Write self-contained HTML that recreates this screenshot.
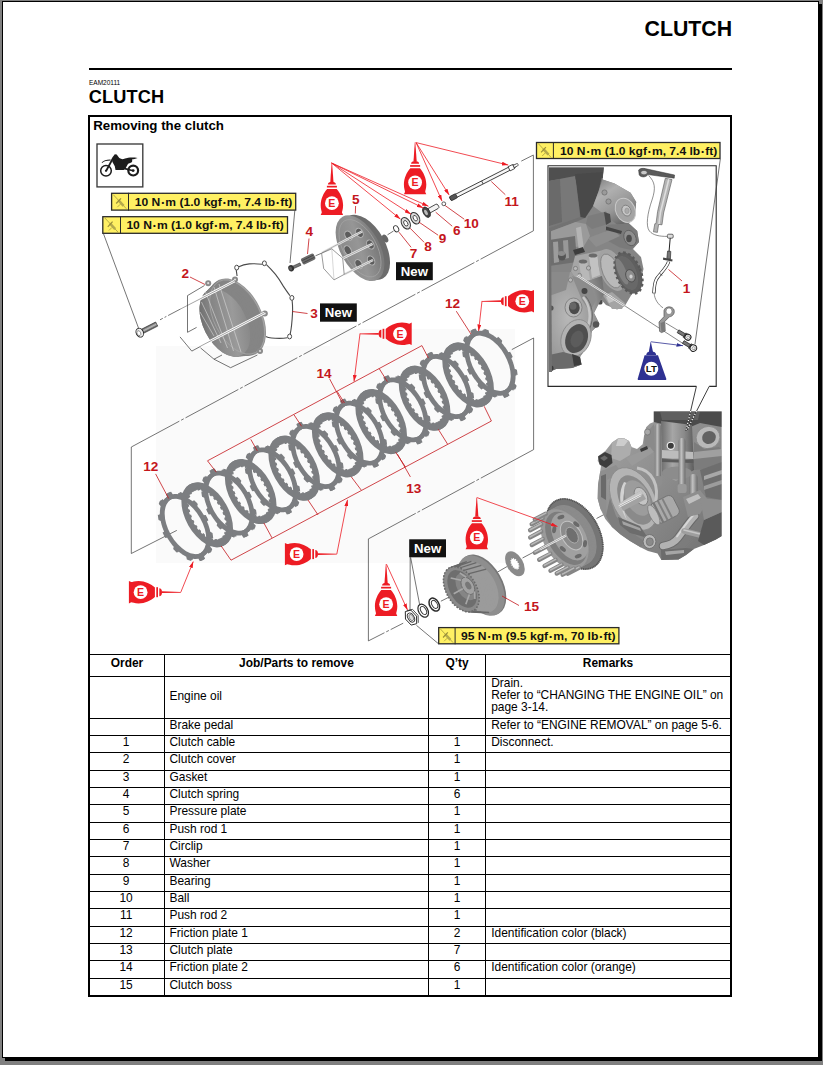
<!DOCTYPE html><html><head><meta charset="utf-8"><title>CLUTCH</title><style>
html,body{margin:0;padding:0}
body{background:#808080;width:823px;height:1065px;position:relative;overflow:hidden;font-family:"Liberation Sans",Arial,Helvetica,sans-serif;color:#000}
.a{position:absolute}
#shadow{left:5px;top:4px;width:817px;height:1057px;background:#000}
#sheet{left:2px;top:1px;width:815px;height:1055px;border:1px solid #000;background:#fff}
.hl{position:absolute;background:#000;height:1px;left:90px;width:640px}
.vl{position:absolute;background:#000;width:1px;top:654px;height:341px}
.t{position:absolute;font-size:11.95px;line-height:12px;white-space:nowrap}
.b{font-weight:bold}
.c{text-align:center}
</style></head><body>
<div id="shadow" class="a"></div><div id="sheet" class="a"></div>
<div class="a b" style="left:644.6px;top:17.2px;font-size:21.3px;line-height:24px;white-space:nowrap">CLUTCH</div>
<div class="a" style="left:89px;top:68px;width:643px;height:2px;background:#000"></div>
<div class="a" style="left:89px;top:78.9px;font-size:6.5px;line-height:8px">EAM20111</div>
<div class="a b" style="left:88.7px;top:86.5px;font-size:18.2px;letter-spacing:0.15px;line-height:21px">CLUTCH</div>
<div class="a" style="left:88px;top:115px;width:640px;height:878px;border:2px solid #000"></div>
<div class="a b" style="left:93.2px;top:117.6px;font-size:13.3px;line-height:15px">Removing the clutch</div>
<svg class="a" style="left:0;top:0" width="823" height="1065" viewBox="0 0 823 1065" font-family="Liberation Sans, Arial, Helvetica, sans-serif">
<defs>
<marker id="ar" viewBox="0 0 10 6" refX="10" refY="3" markerWidth="6.5" markerHeight="3.9" markerUnits="userSpaceOnUse" orient="auto"><path d="M0,0 L10,3 L0,6 Z" fill="#ed1c24"/></marker>
<marker id="ab" viewBox="0 0 10 6" refX="10" refY="3" markerWidth="6.5" markerHeight="3.9" markerUnits="userSpaceOnUse" orient="auto"><path d="M0,0 L10,3 L0,6 Z" fill="#2e3192"/></marker>
<g id="can"><path d="M-0.3,-40.2 L0.2,-40.2 L1.6,-21.2 L-1.6,-21.2 Z"/><path d="M-4,-18.7 C-4,-20.3 -2.4,-21.4 0,-21.4 C2.4,-21.4 4,-20.3 4,-18.7 Z"/><rect x="-5" y="-17.4" width="10" height="1.7"/><path d="M-4.8,-14.3 L4.8,-14.3 C8.2,-10.5 11.2,-4.5 11.2,2 C11.2,6 10.1,8.2 10.1,9.4 L11.2,11.7 L-11.2,11.7 L-10.1,9.4 C-10.1,8.2 -11.2,6 -11.2,2 C-11.2,-4.5 -8.2,-10.5 -4.8,-14.3 Z"/></g>
<g id="canh"><path d="M-40.2,-0.3 L-21.2,-0.9 L-21.2,0.9 L-40.2,0.5 Z"/><g transform="rotate(-90)"><path d="M-4,-18.7 C-4,-20.3 -2.4,-21.4 0,-21.4 C2.4,-21.4 4,-20.3 4,-18.7 Z"/><rect x="-5" y="-17.4" width="10" height="1.7"/><path d="M-4.8,-14.3 L4.8,-14.3 C8.2,-10.5 11.2,-4.5 11.2,2 C11.2,6 10.1,8.2 10.1,9.4 L11.2,11.7 L-11.2,11.7 L-10.1,9.4 C-10.1,8.2 -11.2,6 -11.2,2 C-11.2,-4.5 -8.2,-10.5 -4.8,-14.3 Z"/></g></g>
<path id="rf" d="M37.8,0.0 L37.8,0.7 L37.8,1.3 L37.7,2.0 L37.7,2.6 L37.7,3.3 L37.6,4.0 L37.5,4.6 L37.4,5.3 L37.3,5.9 L34.3,6.0 L34.2,6.6 L34.0,7.2 L33.9,7.8 L33.8,8.4 L33.6,9.0 L33.5,9.6 L33.3,10.2 L33.1,10.8 L32.9,11.3 L32.7,11.9 L32.5,12.5 L32.3,13.0 L32.0,13.6 L31.8,14.2 L31.5,14.7 L31.3,15.3 L31.0,15.8 L30.7,16.3 L30.4,16.9 L32.7,18.9 L32.4,19.5 L32.1,20.0 L31.7,20.6 L31.3,21.1 L31.0,21.7 L30.6,22.2 L30.2,22.7 L29.8,23.3 L29.4,23.8 L26.7,22.4 L26.3,22.8 L25.9,23.3 L25.5,23.7 L25.0,24.2 L24.6,24.6 L24.2,25.0 L23.7,25.5 L23.3,25.9 L22.8,26.3 L22.4,26.7 L21.9,27.0 L21.4,27.4 L20.9,27.8 L20.5,28.2 L20.0,28.5 L19.5,28.9 L19.0,29.2 L18.4,29.5 L17.9,29.8 L18.9,32.7 L18.3,33.1 L17.7,33.4 L17.2,33.7 L16.6,34.0 L16.0,34.3 L15.4,34.5 L14.8,34.8 L14.2,35.0 L13.5,35.3 L11.9,32.7 L11.3,32.9 L10.8,33.1 L10.2,33.3 L9.6,33.5 L9.0,33.6 L8.4,33.8 L7.8,33.9 L7.2,34.0 L6.6,34.2 L6.0,34.3 L5.4,34.4 L4.8,34.5 L4.2,34.5 L3.6,34.6 L3.0,34.7 L2.4,34.7 L1.8,34.8 L1.2,34.8 L0.6,34.8 L0.0,37.8 L-0.7,37.8 L-1.3,37.8 L-2.0,37.7 L-2.6,37.7 L-3.3,37.7 L-4.0,37.6 L-4.6,37.5 L-5.3,37.4 L-5.9,37.3 L-6.0,34.3 L-6.6,34.2 L-7.2,34.0 L-7.8,33.9 L-8.4,33.8 L-9.0,33.6 L-9.6,33.5 L-10.2,33.3 L-10.8,33.1 L-11.3,32.9 L-11.9,32.7 L-12.5,32.5 L-13.0,32.3 L-13.6,32.0 L-14.2,31.8 L-14.7,31.5 L-15.3,31.3 L-15.8,31.0 L-16.3,30.7 L-16.9,30.4 L-18.9,32.7 L-19.5,32.4 L-20.0,32.1 L-20.6,31.7 L-21.1,31.3 L-21.7,31.0 L-22.2,30.6 L-22.7,30.2 L-23.3,29.8 L-23.8,29.4 L-22.4,26.7 L-22.8,26.3 L-23.3,25.9 L-23.7,25.5 L-24.2,25.0 L-24.6,24.6 L-25.0,24.2 L-25.5,23.7 L-25.9,23.3 L-26.3,22.8 L-26.7,22.4 L-27.0,21.9 L-27.4,21.4 L-27.8,20.9 L-28.2,20.5 L-28.5,20.0 L-28.9,19.5 L-29.2,19.0 L-29.5,18.4 L-29.8,17.9 L-32.7,18.9 L-33.1,18.3 L-33.4,17.7 L-33.7,17.2 L-34.0,16.6 L-34.3,16.0 L-34.5,15.4 L-34.8,14.8 L-35.0,14.2 L-35.3,13.5 L-32.7,11.9 L-32.9,11.3 L-33.1,10.8 L-33.3,10.2 L-33.5,9.6 L-33.6,9.0 L-33.8,8.4 L-33.9,7.8 L-34.0,7.2 L-34.2,6.6 L-34.3,6.0 L-34.4,5.4 L-34.5,4.8 L-34.5,4.2 L-34.6,3.6 L-34.7,3.0 L-34.7,2.4 L-34.8,1.8 L-34.8,1.2 L-34.8,0.6 L-37.8,0.0 L-37.8,-0.7 L-37.8,-1.3 L-37.7,-2.0 L-37.7,-2.6 L-37.7,-3.3 L-37.6,-4.0 L-37.5,-4.6 L-37.4,-5.3 L-37.3,-5.9 L-34.3,-6.0 L-34.2,-6.6 L-34.0,-7.2 L-33.9,-7.8 L-33.8,-8.4 L-33.6,-9.0 L-33.5,-9.6 L-33.3,-10.2 L-33.1,-10.8 L-32.9,-11.3 L-32.7,-11.9 L-32.5,-12.5 L-32.3,-13.0 L-32.0,-13.6 L-31.8,-14.2 L-31.5,-14.7 L-31.3,-15.3 L-31.0,-15.8 L-30.7,-16.3 L-30.4,-16.9 L-32.7,-18.9 L-32.4,-19.5 L-32.1,-20.0 L-31.7,-20.6 L-31.3,-21.1 L-31.0,-21.7 L-30.6,-22.2 L-30.2,-22.7 L-29.8,-23.3 L-29.4,-23.8 L-26.7,-22.4 L-26.3,-22.8 L-25.9,-23.3 L-25.5,-23.7 L-25.0,-24.2 L-24.6,-24.6 L-24.2,-25.0 L-23.7,-25.5 L-23.3,-25.9 L-22.8,-26.3 L-22.4,-26.7 L-21.9,-27.0 L-21.4,-27.4 L-20.9,-27.8 L-20.5,-28.2 L-20.0,-28.5 L-19.5,-28.9 L-19.0,-29.2 L-18.4,-29.5 L-17.9,-29.8 L-18.9,-32.7 L-18.3,-33.1 L-17.7,-33.4 L-17.2,-33.7 L-16.6,-34.0 L-16.0,-34.3 L-15.4,-34.5 L-14.8,-34.8 L-14.2,-35.0 L-13.5,-35.3 L-11.9,-32.7 L-11.3,-32.9 L-10.8,-33.1 L-10.2,-33.3 L-9.6,-33.5 L-9.0,-33.6 L-8.4,-33.8 L-7.8,-33.9 L-7.2,-34.0 L-6.6,-34.2 L-6.0,-34.3 L-5.4,-34.4 L-4.8,-34.5 L-4.2,-34.5 L-3.6,-34.6 L-3.0,-34.7 L-2.4,-34.7 L-1.8,-34.8 L-1.2,-34.8 L-0.6,-34.8 L-0.0,-37.8 L0.7,-37.8 L1.3,-37.8 L2.0,-37.7 L2.6,-37.7 L3.3,-37.7 L4.0,-37.6 L4.6,-37.5 L5.3,-37.4 L5.9,-37.3 L6.0,-34.3 L6.6,-34.2 L7.2,-34.0 L7.8,-33.9 L8.4,-33.8 L9.0,-33.6 L9.6,-33.5 L10.2,-33.3 L10.8,-33.1 L11.3,-32.9 L11.9,-32.7 L12.5,-32.5 L13.0,-32.3 L13.6,-32.0 L14.2,-31.8 L14.7,-31.5 L15.3,-31.3 L15.8,-31.0 L16.3,-30.7 L16.9,-30.4 L18.9,-32.7 L19.5,-32.4 L20.0,-32.1 L20.6,-31.7 L21.1,-31.3 L21.7,-31.0 L22.2,-30.6 L22.7,-30.2 L23.3,-29.8 L23.8,-29.4 L22.4,-26.7 L22.8,-26.3 L23.3,-25.9 L23.7,-25.5 L24.2,-25.0 L24.6,-24.6 L25.0,-24.2 L25.5,-23.7 L25.9,-23.3 L26.3,-22.8 L26.7,-22.4 L27.0,-21.9 L27.4,-21.4 L27.8,-20.9 L28.2,-20.5 L28.5,-20.0 L28.9,-19.5 L29.2,-19.0 L29.5,-18.4 L29.8,-17.9 L32.7,-18.9 L33.1,-18.3 L33.4,-17.7 L33.7,-17.2 L34.0,-16.6 L34.3,-16.0 L34.5,-15.4 L34.8,-14.8 L35.0,-14.2 L35.3,-13.5 L32.7,-11.9 L32.9,-11.3 L33.1,-10.8 L33.3,-10.2 L33.5,-9.6 L33.6,-9.0 L33.8,-8.4 L33.9,-7.8 L34.0,-7.2 L34.2,-6.6 L34.3,-6.0 L34.4,-5.4 L34.5,-4.8 L34.5,-4.2 L34.6,-3.6 L34.7,-3.0 L34.7,-2.4 L34.8,-1.8 L34.8,-1.2 L34.8,-0.6 Z M30.8,0 A30.8,30.8 0 1,0 -30.8,0 A30.8,30.8 0 1,0 30.8,0 Z" fill-rule="evenodd"/>
<path id="rc" d="M35.0,0 A35.0,35.0 0 1,0 -35.0,0 A35.0,35.0 0 1,0 35.0,0 Z M27.0,0.0 L27.0,0.5 L27.0,0.9 L27.0,1.4 L26.9,1.9 L26.9,2.4 L28.8,3.0 L28.8,3.5 L28.7,4.0 L28.6,4.5 L28.6,5.0 L28.5,5.5 L26.4,5.6 L26.3,6.1 L26.2,6.5 L26.1,7.0 L26.0,7.4 L25.8,7.9 L27.6,9.0 L27.4,9.4 L27.3,9.9 L27.1,10.4 L26.9,10.9 L26.7,11.3 L24.7,11.0 L24.5,11.4 L24.3,11.8 L24.1,12.3 L23.8,12.7 L23.6,13.1 L25.1,14.5 L24.9,14.9 L24.6,15.4 L24.3,15.8 L24.0,16.2 L23.8,16.6 L21.8,15.9 L21.6,16.2 L21.3,16.6 L21.0,17.0 L20.7,17.4 L20.4,17.7 L21.6,19.4 L21.2,19.8 L20.9,20.1 L20.5,20.5 L20.1,20.9 L19.8,21.2 L18.1,20.1 L17.7,20.4 L17.4,20.7 L17.0,21.0 L16.6,21.3 L16.2,21.6 L17.0,23.5 L16.6,23.8 L16.2,24.0 L15.8,24.3 L15.4,24.6 L14.9,24.9 L13.5,23.4 L13.1,23.6 L12.7,23.8 L12.3,24.1 L11.8,24.3 L11.4,24.5 L11.8,26.5 L11.3,26.7 L10.9,26.9 L10.4,27.1 L9.9,27.3 L9.4,27.4 L8.3,25.7 L7.9,25.8 L7.4,26.0 L7.0,26.1 L6.5,26.2 L6.1,26.3 L6.0,28.4 L5.5,28.5 L5.0,28.6 L4.5,28.6 L4.0,28.7 L3.5,28.8 L2.8,26.9 L2.4,26.9 L1.9,26.9 L1.4,27.0 L0.9,27.0 L0.5,27.0 L0.0,29.0 L-0.5,29.0 L-1.0,29.0 L-1.5,29.0 L-2.0,28.9 L-2.5,28.9 L-2.8,26.9 L-3.3,26.8 L-3.8,26.7 L-4.2,26.7 L-4.7,26.6 L-5.2,26.5 L-6.0,28.4 L-6.5,28.3 L-7.0,28.1 L-7.5,28.0 L-8.0,27.9 L-8.5,27.7 L-8.3,25.7 L-8.8,25.5 L-9.2,25.4 L-9.7,25.2 L-10.1,25.0 L-10.5,24.9 L-11.8,26.5 L-12.3,26.3 L-12.7,26.1 L-13.2,25.8 L-13.6,25.6 L-14.1,25.4 L-13.5,23.4 L-13.9,23.1 L-14.3,22.9 L-14.7,22.6 L-15.1,22.4 L-15.5,22.1 L-17.0,23.5 L-17.5,23.2 L-17.9,22.9 L-18.3,22.5 L-18.6,22.2 L-19.0,21.9 L-18.1,20.1 L-18.4,19.7 L-18.8,19.4 L-19.1,19.1 L-19.4,18.8 L-19.7,18.4 L-21.6,19.4 L-21.9,19.0 L-22.2,18.6 L-22.5,18.3 L-22.9,17.9 L-23.2,17.5 L-21.8,15.9 L-22.1,15.5 L-22.4,15.1 L-22.6,14.7 L-22.9,14.3 L-23.1,13.9 L-25.1,14.5 L-25.4,14.1 L-25.6,13.6 L-25.8,13.2 L-26.1,12.7 L-26.3,12.3 L-24.7,11.0 L-24.9,10.5 L-25.0,10.1 L-25.2,9.7 L-25.4,9.2 L-25.5,8.8 L-27.6,9.0 L-27.7,8.5 L-27.9,8.0 L-28.0,7.5 L-28.1,7.0 L-28.3,6.5 L-26.4,5.6 L-26.5,5.2 L-26.6,4.7 L-26.7,4.2 L-26.7,3.8 L-26.8,3.3 L-28.8,3.0 L-28.9,2.5 L-28.9,2.0 L-29.0,1.5 L-29.0,1.0 L-29.0,0.5 L-27.0,0.0 L-27.0,-0.5 L-27.0,-0.9 L-27.0,-1.4 L-26.9,-1.9 L-26.9,-2.4 L-28.8,-3.0 L-28.8,-3.5 L-28.7,-4.0 L-28.6,-4.5 L-28.6,-5.0 L-28.5,-5.5 L-26.4,-5.6 L-26.3,-6.1 L-26.2,-6.5 L-26.1,-7.0 L-26.0,-7.4 L-25.8,-7.9 L-27.6,-9.0 L-27.4,-9.4 L-27.3,-9.9 L-27.1,-10.4 L-26.9,-10.9 L-26.7,-11.3 L-24.7,-11.0 L-24.5,-11.4 L-24.3,-11.8 L-24.1,-12.3 L-23.8,-12.7 L-23.6,-13.1 L-25.1,-14.5 L-24.9,-14.9 L-24.6,-15.4 L-24.3,-15.8 L-24.0,-16.2 L-23.8,-16.6 L-21.8,-15.9 L-21.6,-16.2 L-21.3,-16.6 L-21.0,-17.0 L-20.7,-17.4 L-20.4,-17.7 L-21.6,-19.4 L-21.2,-19.8 L-20.9,-20.1 L-20.5,-20.5 L-20.1,-20.9 L-19.8,-21.2 L-18.1,-20.1 L-17.7,-20.4 L-17.4,-20.7 L-17.0,-21.0 L-16.6,-21.3 L-16.2,-21.6 L-17.0,-23.5 L-16.6,-23.8 L-16.2,-24.0 L-15.8,-24.3 L-15.4,-24.6 L-14.9,-24.9 L-13.5,-23.4 L-13.1,-23.6 L-12.7,-23.8 L-12.3,-24.1 L-11.8,-24.3 L-11.4,-24.5 L-11.8,-26.5 L-11.3,-26.7 L-10.9,-26.9 L-10.4,-27.1 L-9.9,-27.3 L-9.4,-27.4 L-8.3,-25.7 L-7.9,-25.8 L-7.4,-26.0 L-7.0,-26.1 L-6.5,-26.2 L-6.1,-26.3 L-6.0,-28.4 L-5.5,-28.5 L-5.0,-28.6 L-4.5,-28.6 L-4.0,-28.7 L-3.5,-28.8 L-2.8,-26.9 L-2.4,-26.9 L-1.9,-26.9 L-1.4,-27.0 L-0.9,-27.0 L-0.5,-27.0 L-0.0,-29.0 L0.5,-29.0 L1.0,-29.0 L1.5,-29.0 L2.0,-28.9 L2.5,-28.9 L2.8,-26.9 L3.3,-26.8 L3.8,-26.7 L4.2,-26.7 L4.7,-26.6 L5.2,-26.5 L6.0,-28.4 L6.5,-28.3 L7.0,-28.1 L7.5,-28.0 L8.0,-27.9 L8.5,-27.7 L8.3,-25.7 L8.8,-25.5 L9.2,-25.4 L9.7,-25.2 L10.1,-25.0 L10.5,-24.9 L11.8,-26.5 L12.3,-26.3 L12.7,-26.1 L13.2,-25.8 L13.6,-25.6 L14.1,-25.4 L13.5,-23.4 L13.9,-23.1 L14.3,-22.9 L14.7,-22.6 L15.1,-22.4 L15.5,-22.1 L17.0,-23.5 L17.5,-23.2 L17.9,-22.9 L18.3,-22.5 L18.6,-22.2 L19.0,-21.9 L18.1,-20.1 L18.4,-19.7 L18.8,-19.4 L19.1,-19.1 L19.4,-18.8 L19.7,-18.4 L21.6,-19.4 L21.9,-19.0 L22.2,-18.6 L22.5,-18.3 L22.9,-17.9 L23.2,-17.5 L21.8,-15.9 L22.1,-15.5 L22.4,-15.1 L22.6,-14.7 L22.9,-14.3 L23.1,-13.9 L25.1,-14.5 L25.4,-14.1 L25.6,-13.6 L25.8,-13.2 L26.1,-12.7 L26.3,-12.3 L24.7,-11.0 L24.9,-10.5 L25.0,-10.1 L25.2,-9.7 L25.4,-9.2 L25.5,-8.8 L27.6,-9.0 L27.7,-8.5 L27.9,-8.0 L28.0,-7.5 L28.1,-7.0 L28.3,-6.5 L26.4,-5.6 L26.5,-5.2 L26.6,-4.7 L26.7,-4.2 L26.7,-3.8 L26.8,-3.3 L28.8,-3.0 L28.9,-2.5 L28.9,-2.0 L29.0,-1.5 L29.0,-1.0 L29.0,-0.5 Z" fill-rule="evenodd"/>
<linearGradient id="gcov" x1="0" y1="0" x2="1" y2="0.6"><stop offset="0" stop-color="#5c5c5c"/><stop offset="0.3" stop-color="#808080"/><stop offset="0.75" stop-color="#9a9a9a"/><stop offset="1" stop-color="#8a8a8a"/></linearGradient>
<linearGradient id="gpp" x1="0" y1="0" x2="1" y2="0.4"><stop offset="0" stop-color="#858585"/><stop offset="0.6" stop-color="#969696"/><stop offset="1" stop-color="#7a7a7a"/></linearGradient>
<linearGradient id="gbolt" x1="0" y1="0" x2="0" y2="1"><stop offset="0" stop-color="#555"/><stop offset="0.5" stop-color="#bbb"/><stop offset="1" stop-color="#444"/></linearGradient>
<clipPath id="cpin"><rect x="549" y="167.3" width="166.5" height="218.5"/></clipPath>
<linearGradient id="gi1" x1="0" y1="0" x2="1" y2="1"><stop offset="0" stop-color="#5c5c5c"/><stop offset="0.5" stop-color="#7e7e7e"/><stop offset="1" stop-color="#9a9a9a"/></linearGradient>
<linearGradient id="gst" x1="0" y1="0" x2="0.6" y2="1"><stop offset="0" stop-color="#7e7e7e"/><stop offset="0.35" stop-color="#b0b0b0"/><stop offset="0.7" stop-color="#979797"/><stop offset="1" stop-color="#6a6a6a"/></linearGradient>
<radialGradient id="gcase" cx="0.35" cy="0.45" r="0.75"><stop offset="0" stop-color="#b8b8b8"/><stop offset="0.6" stop-color="#9a9a9a"/><stop offset="1" stop-color="#6c6c6c"/></radialGradient>
<filter id="bl" x="-5%" y="-5%" width="110%" height="110%"><feGaussianBlur stdDeviation="0.7"/></filter>
<linearGradient id="gcyl" x1="0" y1="0" x2="1" y2="0"><stop offset="0" stop-color="#6e6e6e"/><stop offset="0.35" stop-color="#a6a6a6"/><stop offset="0.7" stop-color="#8a8a8a"/><stop offset="1" stop-color="#5e5e5e"/></linearGradient>
<linearGradient id="gstud" x1="0" y1="0" x2="1" y2="0"><stop offset="0" stop-color="#7a7a7a"/><stop offset="0.4" stop-color="#c2c2c2"/><stop offset="1" stop-color="#6c6c6c"/></linearGradient>
<linearGradient id="gcase2" x1="0" y1="0" x2="1" y2="1"><stop offset="0" stop-color="#a4a4a4"/><stop offset="0.5" stop-color="#8c8c8c"/><stop offset="1" stop-color="#707070"/></linearGradient>
<linearGradient id="gpipe" x1="0" y1="0" x2="1" y2="1"><stop offset="0" stop-color="#cfcfcf"/><stop offset="0.5" stop-color="#a8a8a8"/><stop offset="1" stop-color="#777"/></linearGradient>
<clipPath id="cpen"><rect x="590" y="411.3" width="131.8" height="160"/></clipPath>
</defs>
<rect x="156" y="346" width="359" height="217" fill="#fafafa"/><rect x="330" y="329" width="185" height="18" fill="#fafafa"/>
<path d="M521.3,161.1 L533.4,155" fill="none" stroke="#3a3a3a" stroke-width="0.7" stroke-dasharray="14 2 2 2"/>
<path d="M533.4,155.2 L533.4,230.8" fill="none" stroke="#3a3a3a" stroke-width="0.7" stroke-dasharray="none"/>
<path d="M533.4,230.8 L131.3,447" fill="none" stroke="#3a3a3a" stroke-width="0.7" stroke-dasharray="60 2 3 2"/>
<path d="M131.3,447 L131.3,553.5" fill="none" stroke="#3a3a3a" stroke-width="0.7" stroke-dasharray="none"/>
<path d="M131.3,553.5 L176.8,530.4" fill="none" stroke="#3a3a3a" stroke-width="0.7" stroke-dasharray="none"/>
<path d="M511.8,349.6 L533.6,338" fill="none" stroke="#3a3a3a" stroke-width="0.7" stroke-dasharray="none"/>
<path d="M533.6,338 L533.6,449.6" fill="none" stroke="#3a3a3a" stroke-width="0.7" stroke-dasharray="none"/>
<path d="M533.6,449.6 L368.4,538.9" fill="none" stroke="#3a3a3a" stroke-width="0.7" stroke-dasharray="60 2 3 2"/>
<path d="M368.4,538.9 L368.4,640.9" fill="none" stroke="#3a3a3a" stroke-width="0.7" stroke-dasharray="none"/>
<path d="M368.4,640.9 L403.2,623.2" fill="none" stroke="#3a3a3a" stroke-width="0.7" stroke-dasharray="18 2 3 2"/>
<use href="#rf" fill="#7c7e81" transform="translate(488.9,363.8) rotate(-29.5) scale(0.585,1)"/>
<use href="#rf" fill="#7c7e81" transform="translate(489.9,363.2) rotate(-29.5) scale(0.585,1)"/>
<use href="#rf" fill="#7c7e81" transform="translate(490.9,362.7) rotate(-29.5) scale(0.585,1)"/>
<use href="#rc" fill="#7c7e81" transform="translate(467.1,375.4) rotate(-29.5) scale(0.585,1)"/>
<use href="#rc" fill="#7c7e81" transform="translate(468.1,374.9) rotate(-29.5) scale(0.585,1)"/>
<use href="#rc" fill="#7c7e81" transform="translate(469.1,374.4) rotate(-29.5) scale(0.585,1)"/>
<use href="#rf" fill="#7c7e81" transform="translate(445.4,387.1) rotate(-29.5) scale(0.585,1)"/>
<use href="#rf" fill="#7c7e81" transform="translate(446.4,386.5) rotate(-29.5) scale(0.585,1)"/>
<use href="#rf" fill="#7c7e81" transform="translate(447.4,386.0) rotate(-29.5) scale(0.585,1)"/>
<use href="#rc" fill="#7c7e81" transform="translate(423.6,398.7) rotate(-29.5) scale(0.585,1)"/>
<use href="#rc" fill="#7c7e81" transform="translate(424.6,398.2) rotate(-29.5) scale(0.585,1)"/>
<use href="#rc" fill="#7c7e81" transform="translate(425.6,397.7) rotate(-29.5) scale(0.585,1)"/>
<use href="#rf" fill="#7c7e81" transform="translate(401.9,410.4) rotate(-29.5) scale(0.585,1)"/>
<use href="#rf" fill="#7c7e81" transform="translate(402.9,409.9) rotate(-29.5) scale(0.585,1)"/>
<use href="#rf" fill="#7c7e81" transform="translate(403.9,409.3) rotate(-29.5) scale(0.585,1)"/>
<use href="#rc" fill="#7c7e81" transform="translate(380.2,422.1) rotate(-29.5) scale(0.585,1)"/>
<use href="#rc" fill="#7c7e81" transform="translate(381.2,421.5) rotate(-29.5) scale(0.585,1)"/>
<use href="#rc" fill="#7c7e81" transform="translate(382.2,421.0) rotate(-29.5) scale(0.585,1)"/>
<use href="#rf" fill="#7c7e81" transform="translate(358.4,433.7) rotate(-29.5) scale(0.585,1)"/>
<use href="#rf" fill="#7c7e81" transform="translate(359.4,433.2) rotate(-29.5) scale(0.585,1)"/>
<use href="#rf" fill="#7c7e81" transform="translate(360.4,432.7) rotate(-29.5) scale(0.585,1)"/>
<use href="#rc" fill="#7c7e81" transform="translate(336.7,445.4) rotate(-29.5) scale(0.585,1)"/>
<use href="#rc" fill="#7c7e81" transform="translate(337.7,444.8) rotate(-29.5) scale(0.585,1)"/>
<use href="#rc" fill="#7c7e81" transform="translate(338.7,444.3) rotate(-29.5) scale(0.585,1)"/>
<use href="#rf" fill="#7c7e81" transform="translate(314.9,457.0) rotate(-29.5) scale(0.585,1)"/>
<use href="#rf" fill="#7c7e81" transform="translate(315.9,456.5) rotate(-29.5) scale(0.585,1)"/>
<use href="#rf" fill="#7c7e81" transform="translate(316.9,456.0) rotate(-29.5) scale(0.585,1)"/>
<use href="#rc" fill="#7c7e81" transform="translate(293.2,468.7) rotate(-29.5) scale(0.585,1)"/>
<use href="#rc" fill="#7c7e81" transform="translate(294.2,468.2) rotate(-29.5) scale(0.585,1)"/>
<use href="#rc" fill="#7c7e81" transform="translate(295.2,467.6) rotate(-29.5) scale(0.585,1)"/>
<use href="#rf" fill="#7c7e81" transform="translate(271.5,480.4) rotate(-29.5) scale(0.585,1)"/>
<use href="#rf" fill="#7c7e81" transform="translate(272.5,479.8) rotate(-29.5) scale(0.585,1)"/>
<use href="#rf" fill="#7c7e81" transform="translate(273.5,479.3) rotate(-29.5) scale(0.585,1)"/>
<use href="#rc" fill="#7c7e81" transform="translate(249.7,492.0) rotate(-29.5) scale(0.585,1)"/>
<use href="#rc" fill="#7c7e81" transform="translate(250.7,491.5) rotate(-29.5) scale(0.585,1)"/>
<use href="#rc" fill="#7c7e81" transform="translate(251.7,491.0) rotate(-29.5) scale(0.585,1)"/>
<use href="#rf" fill="#7c7e81" transform="translate(228.0,503.7) rotate(-29.5) scale(0.585,1)"/>
<use href="#rf" fill="#7c7e81" transform="translate(229.0,503.1) rotate(-29.5) scale(0.585,1)"/>
<use href="#rf" fill="#7c7e81" transform="translate(230.0,502.6) rotate(-29.5) scale(0.585,1)"/>
<use href="#rc" fill="#7c7e81" transform="translate(206.2,515.3) rotate(-29.5) scale(0.585,1)"/>
<use href="#rc" fill="#7c7e81" transform="translate(207.2,514.8) rotate(-29.5) scale(0.585,1)"/>
<use href="#rc" fill="#7c7e81" transform="translate(208.2,514.3) rotate(-29.5) scale(0.585,1)"/>
<use href="#rf" fill="#7c7e81" transform="translate(184.5,527.0) rotate(-29.5) scale(0.585,1)"/>
<use href="#rf" fill="#7c7e81" transform="translate(185.5,526.5) rotate(-29.5) scale(0.585,1)"/>
<use href="#rf" fill="#7c7e81" transform="translate(186.5,525.9) rotate(-29.5) scale(0.585,1)"/>
<line x1="207.5" y1="460.8" x2="421.9" y2="345.6" stroke="#c4161c" stroke-width="0.8"/>
<line x1="207.5" y1="460.8" x2="216.3" y2="472.2" stroke="#c4161c" stroke-width="0.8"/>
<line x1="250.8" y1="439.4" x2="257.3" y2="450.9" stroke="#c4161c" stroke-width="0.8"/>
<line x1="294" y1="414.8" x2="301.6" y2="426.3" stroke="#c4161c" stroke-width="0.8"/>
<line x1="337" y1="391.2" x2="344.5" y2="403" stroke="#c4161c" stroke-width="0.8"/>
<line x1="379.2" y1="368.6" x2="387.4" y2="381.7" stroke="#c4161c" stroke-width="0.8"/>
<line x1="421.9" y1="345.6" x2="428.4" y2="358.1" stroke="#c4161c" stroke-width="0.8"/>
<line x1="231" y1="560.2" x2="491.4" y2="421" stroke="#c4161c" stroke-width="0.8"/>
<line x1="231" y1="560.2" x2="221.2" y2="546" stroke="#c4161c" stroke-width="0.8"/>
<line x1="272" y1="537.9" x2="263.9" y2="523" stroke="#c4161c" stroke-width="0.8"/>
<line x1="318" y1="514.9" x2="308" y2="500" stroke="#c4161c" stroke-width="0.8"/>
<line x1="361.2" y1="490" x2="351.3" y2="476.9" stroke="#c4161c" stroke-width="0.8"/>
<line x1="405.5" y1="467" x2="395.6" y2="452.2" stroke="#c4161c" stroke-width="0.8"/>
<line x1="447.5" y1="444" x2="438.3" y2="429.3" stroke="#c4161c" stroke-width="0.8"/>
<line x1="491.4" y1="421" x2="484.2" y2="406.3" stroke="#c4161c" stroke-width="0.8"/>
<path d="M237.1,276 L236.2,269.8 M238.8,266.8 C242,265.2 245.5,264.3 249.3,263.9 C253,263.6 257.5,263.8 262.2,264.3 M266.4,264.6 C269.5,267.5 272.5,270.8 275.5,274.4 C278.5,278.2 281,282.2 283.3,286.1 C285.6,289.5 287.8,292.8 289.9,295.6 M292.1,300.2 C292.6,304.5 292.7,309 292.5,313.3 C292.3,317.5 292,321.5 291.6,325 C291.2,328.5 290.8,331.5 290.2,334.2 M287.4,337.7 C284.8,338.2 282,338.4 279.4,338.4 C276.5,338.4 274,338.3 271.6,338 C269.5,337.7 267.5,337.2 265.6,336.4" fill="none" stroke="#4a4a4a" stroke-width="1.1"/>
<ellipse cx="236.7" cy="267.6" rx="2.0" ry="2.4" fill="#fff" stroke="#4a4a4a" stroke-width="1.0"/>
<ellipse cx="264.4" cy="263.3" rx="2.0" ry="2.4" fill="#fff" stroke="#4a4a4a" stroke-width="1.0"/>
<ellipse cx="291.9" cy="297.9" rx="2.0" ry="2.4" fill="#fff" stroke="#4a4a4a" stroke-width="1.0"/>
<ellipse cx="289.6" cy="336.5" rx="2.0" ry="2.4" fill="#fff" stroke="#4a4a4a" stroke-width="1.0"/>
<g>
<ellipse cx="237.2" cy="317.0" rx="24.5" ry="41.5" transform="rotate(-27 237.2 317.0)" fill="#949494"/>
<ellipse cx="235.6" cy="317.7" rx="24.1" ry="40.9" transform="rotate(-27 235.6 317.7)" fill="#858585"/>
<ellipse cx="234.1" cy="318.4" rx="23.8" ry="40.2" transform="rotate(-27 234.1 318.4)" fill="#858585"/>
<ellipse cx="232.6" cy="319.2" rx="23.4" ry="39.6" transform="rotate(-27 232.6 319.2)" fill="#858585"/>
<ellipse cx="231.0" cy="319.9" rx="23.0" ry="39.0" transform="rotate(-27 231.0 319.9)" fill="#858585"/>
<ellipse cx="229.4" cy="320.6" rx="22.6" ry="38.4" transform="rotate(-27 229.4 320.6)" fill="#858585"/>
<ellipse cx="227.9" cy="321.4" rx="22.2" ry="37.8" transform="rotate(-27 227.9 321.4)" fill="#858585"/>
<ellipse cx="226.4" cy="322.1" rx="21.9" ry="37.1" transform="rotate(-27 226.4 322.1)" fill="#858585"/>
<ellipse cx="224.8" cy="322.8" rx="21.5" ry="36.5" transform="rotate(-27 224.8 322.8)" fill="#858585"/>
<ellipse cx="224.8" cy="322.8" rx="21.5" ry="36.5" transform="rotate(-27 224.8 322.8)" fill="url(#gcov)"/>
<ellipse cx="237.2" cy="317" rx="23.2" ry="40" transform="rotate(-27 237.2 317)" fill="none" stroke="#a8a8a8" stroke-width="0.7"/>
</g>
<circle cx="208.2" cy="283.2" r="3" fill="#8a8a8a"/><circle cx="208.2" cy="283.2" r="1.1" fill="#ddd"/>
<circle cx="264.8" cy="313.5" r="3" fill="#8a8a8a"/><circle cx="264.8" cy="313.5" r="1.1" fill="#ddd"/>
<circle cx="260" cy="351" r="3" fill="#8a8a8a"/><circle cx="260" cy="351" r="1.1" fill="#ddd"/>
<circle cx="235" cy="279.5" r="3" fill="#8a8a8a"/><circle cx="235" cy="279.5" r="1.1" fill="#ddd"/>
<line x1="214" y1="287" x2="233.5" y2="351" stroke="#d8d8d8" stroke-width="0.6"/>
<line x1="205.5" y1="292" x2="227.5" y2="348" stroke="#d8d8d8" stroke-width="0.6"/>
<line x1="201.5" y1="302" x2="221" y2="343" stroke="#d8d8d8" stroke-width="0.6"/>
<line x1="200" y1="312" x2="214" y2="336" stroke="#d8d8d8" stroke-width="0.6"/>
<line x1="219" y1="284" x2="241" y2="352" stroke="#d8d8d8" stroke-width="0.6"/>
<line x1="234.5" y1="281.2" x2="180.5" y2="309" stroke="#fff" stroke-width="2.6"/>
<line x1="234.5" y1="281.2" x2="180.5" y2="309" stroke="#666" stroke-width="0.6"/>
<line x1="264.5" y1="312.8" x2="200.5" y2="346.2" stroke="#fff" stroke-width="2.6"/>
<line x1="264.5" y1="312.8" x2="200.5" y2="346.2" stroke="#666" stroke-width="0.6"/>
<path d="M204.5,285.5 L187.5,295.6 L187.5,332.3" fill="none" stroke="#3a3a3a" stroke-width="0.7" />
<path d="M187.5,332.3 L196.6,327.4" fill="none" stroke="#3a3a3a" stroke-width="0.7" />
<path d="M180.5,309 L160,319.8" fill="none" stroke="#3a3a3a" stroke-width="0.7" stroke-dasharray="14 2 2 2"/>
<path d="M180,336.9 L191.8,351.1 L200.5,346.4" fill="none" stroke="#3a3a3a" stroke-width="0.7" />
<path d="M200.5,347.9 L214,359.2 L222,355" fill="none" stroke="#3a3a3a" stroke-width="0.7" />
<path d="M214,359.2 L230.6,367.7 L257.4,355" fill="none" stroke="#3a3a3a" stroke-width="0.7" />
<g transform="translate(146,329.5) rotate(-27)"><rect x="-4" y="-2.3" width="16" height="4.6" fill="url(#gbolt)" stroke="#333" stroke-width="0.6"/><ellipse cx="-7" cy="0" rx="3.6" ry="4.6" fill="#eee" stroke="#222" stroke-width="0.9"/><ellipse cx="-8" cy="0" rx="1.8" ry="2.6" fill="#fff" stroke="#444" stroke-width="0.5"/></g>
<g transform="translate(292.6,267.6) rotate(-24)"><rect x="0" y="-1.3" width="8.6" height="2.6" fill="#777" stroke="#222" stroke-width="0.5"/><ellipse cx="-1.6" cy="0" rx="2.8" ry="3.2" fill="#333"/><ellipse cx="-2.2" cy="0" rx="1.4" ry="1.8" fill="#5a5a5a"/></g>
<g transform="translate(308.2,259) rotate(-26)"><rect x="-7" y="-3.4" width="14" height="6.8" rx="1.8" fill="#6a6a6a"/><g stroke="#3c3c3c" stroke-width="0.7"><line x1="-6" y1="-1.2" x2="6.5" y2="-1.2"/><line x1="-6" y1="1.2" x2="6.5" y2="1.2"/></g></g>
<path d="M315.5,255.8 L321.6,253.2" fill="none" stroke="#3a3a3a" stroke-width="0.7" />
<ellipse cx="365.6" cy="247.4" rx="19.8" ry="35.6" transform="rotate(-29 365.6 247.4)" fill="#6c6c6c"/>
<ellipse cx="360" cy="248.2" rx="19.5" ry="36" transform="rotate(-29 360 248.2)" fill="url(#gpp)"/>
<ellipse cx="360" cy="248.2" rx="16.5" ry="31.5" transform="rotate(-29 360 248.2)" fill="none" stroke="#a4a4a4" stroke-width="0.7"/>
<ellipse cx="385.2" cy="238.5" rx="2.6" ry="4.3" transform="rotate(-29 385.2 238.5)" fill="#666"/>
<ellipse cx="359.5" cy="232.8" rx="3.3" ry="4.9" transform="rotate(-29 359.5 232.8)" fill="#5c5c5c" stroke="#b4b4b4" stroke-width="1"/>
<ellipse cx="370.4" cy="244.5" rx="3.3" ry="4.9" transform="rotate(-29 370.4 244.5)" fill="#5c5c5c" stroke="#b4b4b4" stroke-width="1"/>
<ellipse cx="371.1" cy="260.5" rx="3.3" ry="4.9" transform="rotate(-29 371.1 260.5)" fill="#5c5c5c" stroke="#b4b4b4" stroke-width="1"/>
<ellipse cx="358.7" cy="264.2" rx="3.3" ry="4.9" transform="rotate(-29 358.7 264.2)" fill="#5c5c5c" stroke="#b4b4b4" stroke-width="1"/>
<ellipse cx="347.8" cy="250.3" rx="3.3" ry="4.9" transform="rotate(-29 347.8 250.3)" fill="#5c5c5c" stroke="#b4b4b4" stroke-width="1"/>
<ellipse cx="348.5" cy="235.7" rx="3.3" ry="4.9" transform="rotate(-29 348.5 235.7)" fill="#5c5c5c" stroke="#b4b4b4" stroke-width="1"/>
<line x1="362" y1="231.5" x2="321.8" y2="252.8" stroke="#e9e9e9" stroke-width="2.4"/>
<line x1="362" y1="231.5" x2="321.8" y2="252.8" stroke="#777" stroke-width="0.5"/>
<line x1="372.5" y1="243.8" x2="342.7" y2="258.3" stroke="#e9e9e9" stroke-width="2.4"/>
<line x1="372.5" y1="243.8" x2="342.7" y2="258.3" stroke="#777" stroke-width="0.5"/>
<line x1="373" y1="260" x2="344.2" y2="274.4" stroke="#e9e9e9" stroke-width="2.4"/>
<line x1="373" y1="260" x2="344.2" y2="274.4" stroke="#777" stroke-width="0.5"/>
<path d="M321.6,253.2 L331.8,248.8 L342.7,258.3 L344.2,274.4 L334,279.9 L323.7,268.5 L321.6,253.2" fill="none" stroke="#555" stroke-width="0.6" />
<path d="M331.8,248.8 L334,279.9" fill="none" stroke="#999" stroke-width="0.4" />
<path d="M387.5,234.8 L393.5,231" fill="none" stroke="#3a3a3a" stroke-width="0.7" />
<ellipse cx="396.2" cy="228.8" rx="2.3" ry="3.3" transform="rotate(-29 396.2 228.8)" fill="#fff" stroke="#333" stroke-width="0.9"/>
<ellipse cx="405.8" cy="223.3" rx="4.1" ry="6.2" transform="rotate(-29 405.8 223.3)" fill="#dcdcdc" stroke="#333" stroke-width="1"/>
<ellipse cx="405.8" cy="223.3" rx="1.8" ry="3" transform="rotate(-29 405.8 223.3)" fill="#fff" stroke="#333" stroke-width="0.8"/>
<ellipse cx="415.2" cy="218.2" rx="4.1" ry="6.2" transform="rotate(-29 415.2 218.2)" fill="#dcdcdc" stroke="#333" stroke-width="1"/>
<ellipse cx="415.2" cy="218.2" rx="1.8" ry="3" transform="rotate(-29 415.2 218.2)" fill="#fff" stroke="#333" stroke-width="0.8"/>
<g transform="translate(426.5,212.2) rotate(-29)"><rect x="1" y="-2.4" width="12.5" height="4.8" rx="1.6" fill="#f4f4f4" stroke="#333" stroke-width="0.8"/><ellipse cx="0" cy="0" rx="3.2" ry="5.6" fill="#444" stroke="#222" stroke-width="0.8"/><ellipse cx="-0.6" cy="0" rx="1.5" ry="3" fill="#bbb"/></g>
<circle cx="443.8" cy="203.8" r="1.9" fill="#fff" stroke="#333" stroke-width="0.8"/>
<g transform="translate(450.3,198.8) rotate(-27)"><rect x="0" y="-1.7" width="72" height="3.4" fill="#f6f6f6" stroke="#2c2c2c" stroke-width="0.8"/><rect x="0" y="-2.3" width="7" height="4.6" rx="1" fill="#555" stroke="#222" stroke-width="0.6"/><rect x="66" y="-2.3" width="5" height="4.6" fill="#fff" stroke="#222" stroke-width="0.7"/><rect x="71" y="-1.2" width="5" height="2.4" rx="1" fill="#fff" stroke="#222" stroke-width="0.7"/><line x1="36" y1="-1.7" x2="36" y2="1.7" stroke="#222" stroke-width="0.7"/></g>
<path d="M440.9,601.2 L451.1,596.1" fill="none" stroke="#3a3a3a" stroke-width="0.7" />
<path d="M497.1,572.3 L507.3,566.4" fill="none" stroke="#3a3a3a" stroke-width="0.7" />
<path d="M522.5,558 L549,544" fill="none" stroke="#3a3a3a" stroke-width="0.7" />
<path d="M596.5,518.5 L622,505" fill="none" stroke="#3a3a3a" stroke-width="0.7" />
<ellipse cx="574.5" cy="534.0" rx="24.9" ry="38.8" transform="rotate(-30 574.5 534.0)" fill="#757575" />
<ellipse cx="574.5" cy="534.0" rx="24.3" ry="38.0" transform="rotate(-30 574.5 534.0)" fill="none" stroke="#4e4e4e" stroke-width="1.8" stroke-dasharray="0.9 0.9"/>
<ellipse cx="572.5" cy="535.0" rx="20.5" ry="32.5" transform="rotate(-30 572.5 535.0)" fill="#8b8b8b" />
<ellipse cx="571.7" cy="535.4" rx="20.5" ry="32.5" transform="rotate(-30 571.7 535.4)" fill="#8b8b8b" />
<ellipse cx="570.9" cy="535.8" rx="20.5" ry="32.5" transform="rotate(-30 570.9 535.8)" fill="#8b8b8b" />
<ellipse cx="570.1" cy="536.3" rx="20.5" ry="32.5" transform="rotate(-30 570.1 536.3)" fill="#8b8b8b" />
<ellipse cx="569.3" cy="536.7" rx="20.5" ry="32.5" transform="rotate(-30 569.3 536.7)" fill="#8b8b8b" />
<ellipse cx="568.5" cy="537.1" rx="20.5" ry="32.5" transform="rotate(-30 568.5 537.1)" fill="#8b8b8b" />
<ellipse cx="567.7" cy="537.5" rx="20.5" ry="32.5" transform="rotate(-30 567.7 537.5)" fill="#8b8b8b" />
<ellipse cx="566.9" cy="538.0" rx="20.5" ry="32.5" transform="rotate(-30 566.9 538.0)" fill="#8b8b8b" />
<ellipse cx="566.1" cy="538.4" rx="20.5" ry="32.5" transform="rotate(-30 566.1 538.4)" fill="#8b8b8b" />
<ellipse cx="565.3" cy="538.8" rx="20.5" ry="32.5" transform="rotate(-30 565.3 538.8)" fill="#8b8b8b" />
<ellipse cx="564.6" cy="539.2" rx="20.5" ry="32.5" transform="rotate(-30 564.6 539.2)" fill="#9a9a9a" />
<line x1="579.0" y1="567.7" x2="567.9" y2="573.6" stroke="#858585" stroke-width="4.4" stroke-linecap="round"/>
<line x1="579.0" y1="567.1" x2="567.9" y2="573.0" stroke="#b8b8b8" stroke-width="1.6" stroke-linecap="round"/>
<line x1="573.7" y1="568.7" x2="562.6" y2="574.6" stroke="#858585" stroke-width="4.4" stroke-linecap="round"/>
<line x1="573.7" y1="568.1" x2="562.6" y2="574.0" stroke="#b8b8b8" stroke-width="1.6" stroke-linecap="round"/>
<line x1="567.7" y1="567.7" x2="556.7" y2="573.5" stroke="#858585" stroke-width="4.4" stroke-linecap="round"/>
<line x1="567.7" y1="567.1" x2="556.7" y2="572.9" stroke="#b8b8b8" stroke-width="1.6" stroke-linecap="round"/>
<line x1="561.6" y1="564.7" x2="550.5" y2="570.6" stroke="#858585" stroke-width="4.4" stroke-linecap="round"/>
<line x1="561.6" y1="564.1" x2="550.5" y2="570.0" stroke="#b8b8b8" stroke-width="1.6" stroke-linecap="round"/>
<line x1="555.6" y1="560.0" x2="544.6" y2="565.9" stroke="#858585" stroke-width="4.4" stroke-linecap="round"/>
<line x1="555.6" y1="559.4" x2="544.6" y2="565.3" stroke="#b8b8b8" stroke-width="1.6" stroke-linecap="round"/>
<line x1="550.3" y1="553.9" x2="539.2" y2="559.8" stroke="#858585" stroke-width="4.4" stroke-linecap="round"/>
<line x1="550.3" y1="553.3" x2="539.2" y2="559.2" stroke="#b8b8b8" stroke-width="1.6" stroke-linecap="round"/>
<line x1="545.9" y1="546.8" x2="534.9" y2="552.6" stroke="#858585" stroke-width="4.4" stroke-linecap="round"/>
<line x1="545.9" y1="546.2" x2="534.9" y2="552.0" stroke="#b8b8b8" stroke-width="1.6" stroke-linecap="round"/>
<line x1="542.8" y1="539.1" x2="531.8" y2="545.0" stroke="#858585" stroke-width="4.4" stroke-linecap="round"/>
<line x1="542.8" y1="538.5" x2="531.8" y2="544.4" stroke="#b8b8b8" stroke-width="1.6" stroke-linecap="round"/>
<line x1="541.2" y1="531.5" x2="530.2" y2="537.4" stroke="#858585" stroke-width="4.4" stroke-linecap="round"/>
<line x1="541.2" y1="530.9" x2="530.2" y2="536.8" stroke="#b8b8b8" stroke-width="1.6" stroke-linecap="round"/>
<line x1="541.2" y1="524.4" x2="530.1" y2="530.3" stroke="#858585" stroke-width="4.4" stroke-linecap="round"/>
<line x1="541.2" y1="523.8" x2="530.1" y2="529.7" stroke="#b8b8b8" stroke-width="1.6" stroke-linecap="round"/>
<line x1="542.7" y1="518.3" x2="531.7" y2="524.2" stroke="#858585" stroke-width="4.4" stroke-linecap="round"/>
<line x1="542.7" y1="517.7" x2="531.7" y2="523.6" stroke="#b8b8b8" stroke-width="1.6" stroke-linecap="round"/>
<line x1="545.8" y1="513.7" x2="534.8" y2="519.5" stroke="#858585" stroke-width="4.4" stroke-linecap="round"/>
<line x1="545.8" y1="513.1" x2="534.8" y2="518.9" stroke="#b8b8b8" stroke-width="1.6" stroke-linecap="round"/>
<ellipse cx="566.1" cy="538.4" rx="17.5" ry="29" transform="rotate(-30 566.1 538.4)" fill="#7d7d7d" />
<ellipse cx="569.6" cy="536.6" rx="15.5" ry="26" transform="rotate(-30 569.6 536.6)" fill="#a0a0a0" />
<ellipse cx="571.6" cy="535.6" rx="9.5" ry="15.5" transform="rotate(-30 571.6 535.6)" fill="#8c8c8c" stroke="#c2c2c2" stroke-width="1"/>
<ellipse cx="572.1" cy="535.2" rx="5.2" ry="8.6" transform="rotate(-30 572.1 535.2)" fill="#6f6f6f" stroke="#b0b0b0" stroke-width="0.8"/>
<ellipse cx="585.0" cy="543.7" rx="2.0" ry="3.6" transform="rotate(10 585.0 543.7)" fill="#6a6a6a" />
<ellipse cx="578.2" cy="556.1" rx="2.0" ry="3.6" transform="rotate(70 578.2 556.1)" fill="#6a6a6a" />
<ellipse cx="562.8" cy="549.0" rx="2.0" ry="3.6" transform="rotate(130 562.8 549.0)" fill="#6a6a6a" />
<ellipse cx="554.2" cy="529.6" rx="2.0" ry="3.6" transform="rotate(190 554.2 529.6)" fill="#6a6a6a" />
<ellipse cx="560.9" cy="517.2" rx="2.0" ry="3.6" transform="rotate(250 560.9 517.2)" fill="#6a6a6a" />
<ellipse cx="576.3" cy="524.2" rx="2.0" ry="3.6" transform="rotate(310 576.3 524.2)" fill="#6a6a6a" />
<line x1="540" y1="549.3" x2="566" y2="535.5" stroke="#f4f4f4" stroke-width="2"/><line x1="540" y1="549.3" x2="566" y2="535.5" stroke="#666" stroke-width="0.5"/>
<ellipse cx="514.9" cy="563.8" rx="8.2" ry="13.6" transform="rotate(-30 514.9 563.8)" fill="#8a8a8a" />
<ellipse cx="514.9" cy="563.8" rx="3.8" ry="6.4" transform="rotate(-30 514.9 563.8)" fill="#fff" stroke="#8a8a8a" stroke-width="1.6" stroke-dasharray="1.2 1.2"/>
<ellipse cx="482.5" cy="584.8" rx="19.8" ry="33" transform="rotate(-30 482.5 584.8)" fill="#777" />
<ellipse cx="481.0" cy="585.6" rx="19.8" ry="33" transform="rotate(-30 481.0 585.6)" fill="#8e8e8e" />
<ellipse cx="478.0" cy="587.1" rx="17.5" ry="28.0" transform="rotate(-30 478.0 587.1)" fill="#9b9b9b" />
<ellipse cx="476.6" cy="587.3" rx="17.291666666666668" ry="27.708333333333332" transform="rotate(-30 476.6 587.3)" fill="#9b9b9b" />
<ellipse cx="475.2" cy="587.5" rx="17.083333333333332" ry="27.416666666666668" transform="rotate(-30 475.2 587.5)" fill="#9b9b9b" />
<ellipse cx="473.8" cy="587.6" rx="16.875" ry="27.125" transform="rotate(-30 473.8 587.6)" fill="#9b9b9b" />
<ellipse cx="472.4" cy="587.8" rx="16.666666666666668" ry="26.833333333333332" transform="rotate(-30 472.4 587.8)" fill="#9b9b9b" />
<ellipse cx="471.0" cy="588.0" rx="16.458333333333332" ry="26.541666666666668" transform="rotate(-30 471.0 588.0)" fill="#9b9b9b" />
<ellipse cx="469.6" cy="588.2" rx="16.25" ry="26.25" transform="rotate(-30 469.6 588.2)" fill="#9b9b9b" />
<ellipse cx="468.3" cy="588.4" rx="16.041666666666668" ry="25.958333333333332" transform="rotate(-30 468.3 588.4)" fill="#9b9b9b" />
<ellipse cx="466.9" cy="588.6" rx="15.833333333333334" ry="25.666666666666668" transform="rotate(-30 466.9 588.6)" fill="#9b9b9b" />
<ellipse cx="465.5" cy="588.8" rx="15.625" ry="25.375" transform="rotate(-30 465.5 588.8)" fill="#9b9b9b" />
<ellipse cx="464.1" cy="588.9" rx="15.416666666666666" ry="25.083333333333332" transform="rotate(-30 464.1 588.9)" fill="#9b9b9b" />
<ellipse cx="462.7" cy="589.1" rx="15.208333333333334" ry="24.791666666666668" transform="rotate(-30 462.7 589.1)" fill="#9b9b9b" />
<ellipse cx="461.3" cy="589.3" rx="15.0" ry="24.5" transform="rotate(-30 461.3 589.3)" fill="#9b9b9b" />
<line x1="471.1" y1="611.5" x2="489.2" y2="612.5" stroke="#686868" stroke-width="1.3"/>
<line x1="467.8" y1="611.8" x2="485.3" y2="612.9" stroke="#686868" stroke-width="1.3"/>
<line x1="464.2" y1="611.1" x2="481.1" y2="612.1" stroke="#686868" stroke-width="1.3"/>
<line x1="460.5" y1="609.4" x2="476.8" y2="610.2" stroke="#686868" stroke-width="1.3"/>
<line x1="456.8" y1="606.9" x2="472.6" y2="607.4" stroke="#686868" stroke-width="1.3"/>
<line x1="453.3" y1="603.6" x2="468.5" y2="603.6" stroke="#686868" stroke-width="1.3"/>
<line x1="450.1" y1="599.7" x2="464.9" y2="599.1" stroke="#686868" stroke-width="1.3"/>
<line x1="447.5" y1="595.3" x2="461.9" y2="594.1" stroke="#686868" stroke-width="1.3"/>
<line x1="445.4" y1="590.7" x2="459.6" y2="588.8" stroke="#686868" stroke-width="1.3"/>
<line x1="444.1" y1="586.0" x2="458.0" y2="583.4" stroke="#686868" stroke-width="1.3"/>
<line x1="443.5" y1="581.4" x2="457.4" y2="578.2" stroke="#686868" stroke-width="1.3"/>
<line x1="443.6" y1="577.2" x2="457.6" y2="573.4" stroke="#686868" stroke-width="1.3"/>
<line x1="444.6" y1="573.5" x2="458.8" y2="569.1" stroke="#686868" stroke-width="1.3"/>
<line x1="446.3" y1="570.5" x2="460.7" y2="565.7" stroke="#686868" stroke-width="1.3"/>
<line x1="448.6" y1="568.4" x2="463.5" y2="563.2" stroke="#686868" stroke-width="1.3"/>
<line x1="451.5" y1="567.1" x2="466.8" y2="561.7" stroke="#686868" stroke-width="1.3"/>
<line x1="455.4" y1="566.9" x2="471.4" y2="561.4" stroke="#686868" stroke-width="1.3"/>
<line x1="459.6" y1="568.0" x2="476.3" y2="562.6" stroke="#686868" stroke-width="1.3"/>
<line x1="464.0" y1="570.3" x2="481.3" y2="565.3" stroke="#686868" stroke-width="1.3"/>
<line x1="468.2" y1="573.8" x2="486.2" y2="569.2" stroke="#686868" stroke-width="1.3"/>
<ellipse cx="461.3" cy="589.3" rx="15.0" ry="24.5" transform="rotate(-30 461.3 589.3)" fill="#8a8a8a" stroke="#6a6a6a" stroke-width="1.6" stroke-dasharray="1.6 1.6"/>
<ellipse cx="462.1" cy="588.9" rx="12.3" ry="20.5" transform="rotate(-30 462.1 588.9)" fill="#6e6e6e" />
<ellipse cx="465.8" cy="586.9" rx="8.6" ry="14.5" transform="rotate(-30 465.8 586.9)" fill="#858585" />
<ellipse cx="467.8" cy="585.9" rx="5.8" ry="9.4" transform="rotate(-30 467.8 585.9)" fill="#a2a2a2" stroke="#6a6a6a" stroke-width="0.8"/>
<ellipse cx="468.3" cy="585.6" rx="2.6" ry="4.2" transform="rotate(-30 468.3 585.6)" fill="#777" />
<line x1="474.9" y1="599.0" x2="474.4" y2="591.5" stroke="#a8a8a8" stroke-width="1.6"/>
<line x1="465.8" y1="604.2" x2="469.4" y2="594.4" stroke="#a8a8a8" stroke-width="1.6"/>
<line x1="453.7" y1="593.8" x2="462.8" y2="588.8" stroke="#a8a8a8" stroke-width="1.6"/>
<line x1="450.7" y1="578.0" x2="461.2" y2="580.3" stroke="#a8a8a8" stroke-width="1.6"/>
<line x1="459.8" y1="572.8" x2="466.2" y2="577.4" stroke="#a8a8a8" stroke-width="1.6"/>
<ellipse cx="434.3" cy="604.6" rx="4.6" ry="7.0" transform="rotate(-30 434.3 604.6)" fill="#fff" stroke="#2c2c2c" stroke-width="1.5"/>
<ellipse cx="434.6" cy="604.4" rx="2.6" ry="4.4" transform="rotate(-30 434.6 604.4)" fill="#fff" stroke="#2c2c2c" stroke-width="0.9"/>
<ellipse cx="423.2" cy="610.7" rx="4.6" ry="7.0" transform="rotate(-30 423.2 610.7)" fill="#fff" stroke="#2c2c2c" stroke-width="1.2"/>
<ellipse cx="423.5" cy="610.5" rx="2.6" ry="4.4" transform="rotate(-30 423.5 610.5)" fill="#fff" stroke="#2c2c2c" stroke-width="0.9"/>
<path d="M416.5227509429015,616.1358383969175 L416.6993878126451,623.6410036582928 L411.1766368697436,625.1051652613752 L405.4772490570985,619.0641616030825 L405.3006121873549,611.5589963417073 L410.8233631302564,610.0948347386249 L416.5227509429015,616.1358383969175" fill="#fff" stroke="#2c2c2c" stroke-width="1.0" />
<path d="M406.9006121873549,610.7589963417073 L412.4233631302564,609.2948347386249 L418.1227509429015,615.3358383969176 L418.29938781264514,622.8410036582928" fill="none" stroke="#2c2c2c" stroke-width="0.8" />
<ellipse cx="411.0" cy="617.6" rx="3.0" ry="5.0" transform="rotate(-30 411.0 617.6)" fill="#fff" stroke="#2c2c2c" stroke-width="0.9"/>
<ellipse cx="411.3" cy="617.5" rx="1.9" ry="3.4" transform="rotate(-30 411.3 617.5)" fill="#ddd" stroke="#555" stroke-width="0.6"/>
<path d="M709.2,386.4 L716.2,386.4 L716.2,165.8 L548,165.8 L548,386.4 L696.4,386.4" fill="#fff" stroke="#2a2a2a" stroke-width="1.1"/>
<path d="M696.4,386.4 L690.6,411" fill="none" stroke="#2a2a2a" stroke-width="0.9" />
<path d="M709.2,386.4 L696.6,411" fill="none" stroke="#2a2a2a" stroke-width="0.9" />
<g clip-path="url(#cpin)"><g filter="url(#bl)">
<polygon points="549.0,167.3 603.5,167.3 602.5,179.4 614.5,183.4 630.6,192.7 636.2,202.1 634.6,215.5 629.0,223.5 637.2,231.0 639.0,242.0 633.0,249.0 641.0,257.0 643.5,269.0 640.0,283.0 631.0,295.5 624.5,306.5 617.0,309.5 606.0,305.0 600.5,299.0 594.0,313.0 599.5,324.0 592.0,331.0 588.5,340.0 584.5,350.0 580.0,357.0 581.5,364.5 572.0,368.0 556.0,369.0 549.0,372.0" fill="#858585" />
<polygon points="549.0,167.3 603.8,167.3 602.5,179.4 598.5,191.4 593.1,206.1 585.1,218.1 575.7,222.0 549.0,232.0" fill="#727272" />
<polygon points="549.0,167.3 603.8,167.3 602.8,178.0 549.0,181.0" fill="#505050" />
<polygon points="575.0,174.0 603.0,172.0 598.5,191.4 593.1,206.1 585.1,218.1 580.5,217.0" fill="#4a4a4a" />
<polygon points="549.0,181.0 575.0,176.0 580.0,217.0 549.0,228.0" fill="#787878" />
<polygon points="549.0,181.0 560.0,179.0 562.0,222.0 549.0,226.0" fill="#6a6a6a" />
<polygon points="602.5,179.4 614.5,183.4 630.6,192.7 636.2,202.1 634.6,215.5 627.9,223.5 617.2,224.8 607.8,217.0 593.1,206.1 598.5,191.4" fill="url(#gst)" />
<ellipse cx="625.4" cy="210.3" rx="9.6" ry="12.6" transform="rotate(-25 625.4 210.3)" fill="#a4a4a4" stroke="#c9c9c9" stroke-width="1"/>
<ellipse cx="626.4" cy="210.6" rx="4.4" ry="5.6" transform="rotate(-25 626.4 210.6)" fill="#c6c6c6" stroke="#7a7a7a" stroke-width="0.8"/>
<ellipse cx="627" cy="210.8" rx="2.2" ry="2.8" fill="#aaa" stroke="#8a8a8a" stroke-width="0.5"/>
<circle cx="604.5" cy="192.5" r="2.6" fill="#9a9a9a" stroke="#6a6a6a" stroke-width="0.7"/><circle cx="608.5" cy="201.5" r="2.6" fill="#9a9a9a" stroke="#6a6a6a" stroke-width="0.7"/>
<polygon points="588.0,216.0 606.0,211.5 610.0,217.0 608.0,224.0 592.0,229.0 586.0,224.0" fill="#7c7c7c" />
<polygon points="604.0,212.0 610.0,214.0 611.0,222.0 606.0,225.0" fill="#4c4c4c" />
<polygon points="607.8,224.8 629.0,223.5 637.2,231.0 639.0,242.0 631.0,250.0 619.9,247.6 602.5,238.0" fill="#7a7a7a" />
<ellipse cx="630" cy="238" rx="5.8" ry="8" transform="rotate(-25 630 238)" fill="#8e8e8e" stroke="#5e5e5e" stroke-width="0.8"/><ellipse cx="629" cy="238.5" rx="2.8" ry="3.8" fill="#4e4e4e"/>
<polygon points="588.0,238.0 612.0,229.0 620.0,236.0 596.0,247.0" fill="#8e8e8e" />
<polygon points="606.0,226.5 622.0,231.0 621.0,234.0 606.0,230.0" fill="#454545" />
<polygon points="549.0,232.0 575.7,222.0 586.0,224.0 590.0,236.0 584.0,246.0 549.0,250.0" fill="#9a9a9a" />
<polygon points="549.0,240.0 575.0,236.0 577.0,262.0 549.0,266.0" fill="#6e6e6e" />
<polygon points="553.0,242.0 558.0,241.5 559.0,262.0 554.0,263.0" fill="#9c9c9c" />
<polygon points="563.0,240.5 568.0,240.0 569.0,258.0 564.0,259.0" fill="#989898" />
<ellipse cx="562" cy="256" rx="4" ry="4.5" fill="#555"/><ellipse cx="561.5" cy="253.5" rx="3.6" ry="2.4" fill="#8c8c8c"/>
<polygon points="576.0,228.0 581.0,226.5 584.0,250.0 579.0,252.0" fill="#b4b4b4" />
<polygon points="575.0,256.0 604.0,250.0 607.0,262.0 602.0,276.0 580.0,284.0 571.0,272.0" fill="#a6a6a6" />
<polygon points="589.0,256.0 597.0,254.0 600.0,275.0 592.0,278.0" fill="#c2c2c2" />
<polygon points="579.0,262.0 587.0,260.0 590.0,280.0 582.0,283.0" fill="#b8b8b8" />
<ellipse cx="593" cy="255.5" rx="4.3" ry="2" fill="#6a6a6a"/><ellipse cx="583" cy="261.5" rx="4.2" ry="2" fill="#6a6a6a"/>
<polygon points="573.0,250.0 583.0,247.0 585.0,252.0 575.0,255.0" fill="#3e3e3e" />
<ellipse cx="612" cy="270" rx="12" ry="22" transform="rotate(-22 612 270)" fill="#a2a2a2"/>
<ellipse cx="611" cy="271" rx="8.5" ry="18" transform="rotate(-22 611 271)" fill="#b9b9b9" stroke="#808080" stroke-width="0.8"/>
<ellipse cx="628.5" cy="273" rx="12.2" ry="21.5" transform="rotate(-22 628.5 273)" fill="#5e5e5e" stroke="#5a5a5a" stroke-width="2.6" stroke-dasharray="2.6 2.6"/>
<ellipse cx="627" cy="273" rx="9.5" ry="18" transform="rotate(-22 627 273)" fill="#686868"/>
<ellipse cx="622" cy="271.5" rx="4" ry="14" transform="rotate(-22 622 271.5)" fill="#808080"/>
<ellipse cx="630.5" cy="275.8" rx="4.6" ry="6.4" transform="rotate(-22 630.5 275.8)" fill="#8c8c8c" stroke="#4a4a4a" stroke-width="0.8"/>
<ellipse cx="631" cy="276.5" rx="1.6" ry="2" fill="#d0d0d0"/>
<polygon points="603.0,295.5 612.0,292.0 625.0,303.0 622.0,309.0 612.0,309.0" fill="#a4a4a4" />
<polygon points="606.0,297.0 611.0,295.0 614.0,301.0 609.0,303.0" fill="#c4c4c4" />
<circle cx="600" cy="302" r="2.6" fill="#4a4a4a"/>
<polygon points="549.0,272.0 571.0,272.0 580.0,284.0 602.0,276.0 604.0,294.0 594.0,313.0 599.5,324.0 592.0,331.0 588.5,340.0 584.5,350.0 580.0,357.0 581.5,364.5 572.0,368.0 556.0,369.0 549.0,372.0" fill="url(#gcase)" />
<polygon points="549.0,272.0 570.0,272.0 566.0,290.0 549.0,296.0" fill="#8a8a8a" />
<polygon points="572.0,276.0 590.0,281.0 596.0,300.0 590.0,312.0 582.0,300.0" fill="#8c8c8c" />
<circle cx="575.5" cy="268.5" r="2.1" fill="#b8b8b8" stroke="#666" stroke-width="0.6"/>
<circle cx="579.5" cy="275.5" r="2.1" fill="#b8b8b8" stroke="#666" stroke-width="0.6"/>
<circle cx="588.5" cy="268" r="2.1" fill="#b8b8b8" stroke="#666" stroke-width="0.6"/>
<circle cx="570.5" cy="280" r="2.1" fill="#b8b8b8" stroke="#666" stroke-width="0.6"/>
<circle cx="584.5" cy="291" r="3" fill="#444"/>
<ellipse cx="573.5" cy="307.5" rx="8.5" ry="9.5" fill="#b6b6b6" stroke="#7a7a7a" stroke-width="0.8"/><ellipse cx="574.3" cy="307.8" rx="5.4" ry="6.4" fill="#4c4c4c"/><ellipse cx="573" cy="306" rx="3.4" ry="3.8" fill="#666"/>
<path d="M583,297 C590,305 592,318 587,328" fill="none" stroke="#c6c6c6" stroke-width="2.6"/><path d="M585.5,296 C593,305 594.5,318 589.5,329" fill="none" stroke="#6a6a6a" stroke-width="1"/>
<ellipse cx="576" cy="338" rx="14.5" ry="19" transform="rotate(22 576 338)" fill="#b2b2b2" stroke="#888" stroke-width="0.8"/>
<ellipse cx="576.6" cy="338.6" rx="10.8" ry="15" transform="rotate(22 576.6 338.6)" fill="#505050"/>
<ellipse cx="577" cy="339" rx="6" ry="8.6" transform="rotate(22 577 339)" fill="#5c5c5c"/>
<circle cx="596" cy="324.5" r="3.2" fill="#555"/>
<circle cx="551" cy="308" r="2.6" fill="#555"/>
<polygon points="549.0,355.0 563.0,352.0 578.0,356.0 581.5,364.5 572.0,368.0 556.0,369.0 549.0,372.0" fill="#6a6a6a" />
<polygon points="572.0,354.0 580.0,357.0 581.5,364.5 574.0,366.0" fill="#3c3c3c" />
<circle cx="551" cy="368" r="2.6" fill="#3a3a3a"/>
<polygon points="549.0,232.0 551.0,230.0 552.0,372.0 549.0,372.0" fill="#707070" />
</g></g>
<line x1="577" y1="275.4" x2="625.5" y2="306.3" stroke="#f0f0f0" stroke-width="2"/><line x1="577" y1="275.4" x2="625.5" y2="306.3" stroke="#555" stroke-width="0.5"/>
<path d="M625.5,306.3 L683,343.5" fill="none" stroke="#3a3a3a" stroke-width="0.6" />
<path d="M638.6,170 C640,168.2 643,168 646,168.8 L674.6,175 L674.2,178.2 L648,174.6 C646,177.6 641,177.6 639.2,175 Z" fill="#5a5a5a" stroke="#333" stroke-width="0.5"/>
<ellipse cx="644" cy="172.6" rx="3.2" ry="2.2" fill="#c8c8c8" stroke="#444" stroke-width="0.5"/>
<path d="M665.3,178.3 L672,179.6 L663.6,213 L662,224.8 L658.6,224.4 L657.4,232.4 L653.4,231.8 L654.8,223.8 L656,223.6 L657.6,211.5 Z" fill="#b4b4b4" stroke="#555" stroke-width="0.6"/>
<path d="M668.8,179.2 L660.4,212.5 L659,224" stroke="#dedede" stroke-width="1.6" fill="none"/>
<path d="M648.6,175.5 C655,182 656,188 652,200 C647.5,213 645.5,226 649.4,231 C653,235.5 660,236.4 667,236.4" fill="none" stroke="#444" stroke-width="0.6"/>
<rect x="667.4" y="234.2" width="5.8" height="4" rx="1.2" fill="#ddd" stroke="#333" stroke-width="0.7"/>
<line x1="670.2" y1="238.2" x2="669" y2="252" stroke="#222" stroke-width="1"/>
<path d="M667.6,251 L670.8,251.4 L670.4,259 L666.8,258.6 Z" fill="#777" stroke="#222" stroke-width="0.6"/>
<path d="M663.2,257.6 L672.6,259.4 L672.2,261.6 L663,259.8 Z" fill="#444"/>
<path d="M668.6,261.5 C667.5,267 660,273.5 656.5,279 C654.3,283 654.2,288 653.9,293.4" fill="none" stroke="#2a2a2a" stroke-width="3.3"/>
<path d="M668.6,261.5 C667.5,267 660,273.5 656.5,279 C654.3,283 654.2,288 653.9,292.8" fill="none" stroke="#fff" stroke-width="1.9"/>
<line x1="659.6" y1="273.2" x2="662" y2="275.6" stroke="#2a2a2a" stroke-width="0.8"/>
<path d="M654.2,293.5 C654.5,299 658,304.5 663,307.8" fill="none" stroke="#444" stroke-width="0.6"/>
<path d="M664,310.5 C665,306.5 671,305.5 673.6,309 C675.6,312.5 673,316.5 669.4,316.8 L664.8,321.4 L665.2,331 L661.6,332.6 L659.6,331.4 L659,322 L664,316.6 Z" fill="#9a9a9a" stroke="#555" stroke-width="0.7"/>
<ellipse cx="669" cy="311.2" rx="3" ry="3.3" fill="#fff" stroke="#666" stroke-width="0.6"/>
<path d="M660.5,323 L664.5,321.6 L664.8,331 L661.5,332.3 Z" fill="#7a7a7a"/>
<path d="M665.9,323.1 L678.1,330.4" fill="none" stroke="#3a3a3a" stroke-width="0.6" />
<g transform="translate(687.9,337.2) rotate(31)"><rect x="-11.5" y="-1.6" width="8" height="3.2" fill="#777" stroke="#222" stroke-width="0.7"/><rect x="-4.0" y="-2.6" width="2" height="5.2" fill="#555" stroke="#222" stroke-width="0.5"/><circle cx="0" cy="0" r="3.0" fill="#fff" stroke="#222" stroke-width="1.1"/><circle cx="0.3" cy="0" r="1.5" fill="#eee" stroke="#555" stroke-width="0.5"/></g>
<g transform="translate(693.4,348.1) rotate(31)"><rect x="-11.8" y="-1.6" width="8" height="3.2" fill="#777" stroke="#222" stroke-width="0.7"/><rect x="-4.3" y="-2.6" width="2" height="5.2" fill="#555" stroke="#222" stroke-width="0.5"/><circle cx="0" cy="0" r="3.3" fill="#fff" stroke="#222" stroke-width="1.1"/><circle cx="0.3" cy="0" r="1.6" fill="#eee" stroke="#555" stroke-width="0.5"/></g>
<g clip-path="url(#cpen)"><g filter="url(#bl)">
<polygon points="653.8,411.3 721.8,411.3 721.8,536.0 715.9,539.5 704.0,545.0 693.8,549.0 686.0,555.0 678.5,559.5 661.4,560.0 657.5,553.5 648.0,551.0 641.0,547.5 630.0,541.0 620.6,534.4 612.0,527.0 605.3,519.0 600.5,509.0 597.7,498.7 598.0,485.0 600.2,471.4 601.0,466.0 597.7,461.0 598.5,456.0 605.3,451.0 612.0,442.5 618.0,438.6 624.0,438.3 629.0,441.0 631.5,447.0 637.0,449.0 642.7,444.2 644.0,436.0 646.1,427.2 650.0,423.5 653.8,422.1" fill="url(#gcase2)" />
<polygon points="653.8,411.3 721.8,411.3 721.8,427.0 700.0,423.0 688.0,428.0 662.0,424.0 653.8,422.1" fill="#4c4c4c" />
<polygon points="660.0,411.3 700.0,411.3 698.0,420.0 662.0,420.0" fill="#5e5e5e" />
<polygon points="661.0,421.0 692.0,425.0 694.0,470.0 676.0,481.0 662.0,474.0" fill="url(#gcyl)" />
<polygon points="662.0,450.0 693.0,452.0 693.5,459.0 662.0,458.0" fill="#bcbcbc" />
<polygon points="662.0,459.0 693.5,460.0 693.5,463.0 662.0,462.0" fill="#5c5c5c" />
<ellipse cx="677" cy="473" rx="15" ry="6.5" fill="#8c8c8c"/>
<ellipse cx="708" cy="437.5" rx="12" ry="11" transform="rotate(-20 708 437.5)" fill="#b9b9b9" stroke="#8a8a8a" stroke-width="0.8"/>
<ellipse cx="709" cy="437.5" rx="7" ry="6.3" transform="rotate(-20 709 437.5)" fill="#626262"/>
<polygon points="694.0,442.0 704.0,449.0 719.0,447.0 721.8,451.0 721.8,468.0 694.0,470.0" fill="#7c7c7c" />
<polygon points="694.0,452.0 721.8,449.0 721.8,456.0 694.0,459.0" fill="#a0a0a0" />
<polygon points="700.0,470.0 721.8,462.0 721.8,500.0 706.0,497.0" fill="#6e6e6e" />
<polygon points="704.0,476.0 721.8,470.0 721.8,474.0 704.0,480.0" fill="#a8a8a8" />
<polygon points="704.0,486.0 721.8,480.0 721.8,484.0 704.0,490.0" fill="#9c9c9c" />
<rect x="654.8" y="424" width="6" height="56" rx="3" fill="url(#gstud)"/>
<rect x="678.6" y="438" width="6.8" height="50" rx="3.4" fill="url(#gstud)"/>
<rect x="653.6" y="476" width="8.4" height="10" rx="2" fill="#8e8e8e"/>
<rect x="677.6" y="484" width="9" height="9" rx="2" fill="#9a9a9a"/>
<rect x="689.5" y="474" width="8" height="22" rx="4" fill="url(#gstud)"/>
<polygon points="644.0,436.0 654.0,424.0 655.0,452.0 645.0,456.0" fill="#8a8a8a" />
<circle cx="647.5" cy="432" r="3" fill="#a8a8a8" stroke="#666" stroke-width="0.6"/>
<circle cx="670.8" cy="445.8" r="3.6" fill="#3c3c3c" stroke="#f2f2f2" stroke-width="1.1"/>
<polygon points="612.0,442.5 618.0,438.6 624.0,438.3 629.0,441.0 631.5,447.0 630.0,455.0 620.0,461.0 611.0,458.0" fill="#adadad" />
<polygon points="618.0,439.0 624.0,438.5 628.0,441.0 624.0,446.0 616.0,446.0" fill="#cdcdcd" />
<polygon points="598.0,456.5 605.0,452.0 611.5,455.0 612.5,463.0 606.0,468.0 599.5,464.5" fill="#3e3e3e" />
<polygon points="600.0,458.0 604.5,455.5 608.0,458.0 604.0,461.0" fill="#6a6a6a" />
<polygon points="626.0,458.0 650.0,447.0 654.0,452.0 632.0,466.0" fill="#9a9a9a" />
<polygon points="640.0,449.0 647.0,446.0 648.0,449.0 641.0,452.0" fill="#3a3a3a" />
<polygon points="600.2,471.4 616.0,465.0 621.0,472.0 607.0,480.0 606.0,516.0 600.5,509.0 597.7,498.7 598.0,485.0" fill="#8f8f8f" />
<polygon points="601.0,476.0 606.0,474.0 606.0,500.0 601.0,497.0" fill="#6a6a6a" />
<polygon points="606.0,516.0 612.0,527.0 620.6,534.4 630.0,541.0 641.0,547.5 644.0,541.0 628.0,530.0 616.0,516.0 610.0,498.0" fill="#7e7e7e" />
<ellipse cx="633.5" cy="499" rx="21" ry="33.5" transform="rotate(-27 633.5 499)" fill="#b4b4b4" stroke="#8a8a8a" stroke-width="0.8"/>
<ellipse cx="635.5" cy="500" rx="15.5" ry="26.5" transform="rotate(-27 635.5 500)" fill="#8a8a8a"/>
<path d="M624,482 C618,492 619,508 627,520 C622,508 622,494 627,483 Z" fill="#d2d2d2"/>
<ellipse cx="637.5" cy="498" rx="11.5" ry="19" transform="rotate(-27 637.5 498)" fill="#9c9c9c"/>
<ellipse cx="641" cy="496.3" rx="6" ry="9.6" transform="rotate(-27 641 496.3)" fill="#c4c4c4" stroke="#777" stroke-width="0.8"/>
<polygon points="641.0,490.5 646.0,499.0 623.0,511.0 619.0,503.5" fill="#a2a2a2" />
<polygon points="641.0,490.5 643.0,494.0 620.5,506.0 619.0,503.5" fill="#c6c6c6" />
<path d="M637,468 C652,470 660,485 655,505" fill="none" stroke="#c2c2c2" stroke-width="3"/>
<polygon points="618.0,517.0 640.0,526.0 648.0,538.0 630.0,533.0 620.0,525.0" fill="#6c6c6c" />
<polygon points="622.0,521.0 640.0,528.0 641.0,531.0 623.0,524.5" fill="#a4a4a4" />
<g transform="translate(664.5,509.5) rotate(-27)"><rect x="-12" y="-11" width="25" height="22" rx="5" fill="#a9a9a9" stroke="#6e6e6e" stroke-width="0.8"/><rect x="-8" y="-11" width="2.2" height="22" fill="#777"/><rect x="-3" y="-11" width="2" height="22" fill="#808080"/><rect x="2" y="-11" width="2" height="22" fill="#808080"/><ellipse cx="-12" cy="0" rx="4" ry="11" fill="#bdbdbd" stroke="#7a7a7a" stroke-width="0.7"/></g>
<path d="M695,516 C690,521 684,530 678,538 C675,542 670,545 663,546" fill="none" stroke="#6a6a6a" stroke-width="8.6" stroke-linecap="round"/>
<path d="M695,516 C690,521 684,530 678,538 C675,542 670,545 663,546" fill="none" stroke="#b2b2b2" stroke-width="6.4" stroke-linecap="round"/>
<path d="M693.5,515 C688.5,520 682.5,529 677,536.5" fill="none" stroke="#d6d6d6" stroke-width="1.8" stroke-linecap="round"/>
<path d="M684,531 L704,536" stroke="#9e9e9e" stroke-width="5.5" stroke-linecap="round" fill="none"/>
<path d="M684,530 L704,535" stroke="#c6c6c6" stroke-width="1.6" stroke-linecap="round" fill="none"/>
<polygon points="683.0,497.0 700.0,490.0 708.0,500.0 700.0,514.0 688.0,517.0" fill="#8e8e8e" />
<polygon points="686.0,499.0 698.0,494.0 701.0,498.0 689.0,504.0" fill="#c0c0c0" />
<ellipse cx="649.5" cy="541.5" rx="6.4" ry="7" fill="#b9b9b9" stroke="#6e6e6e" stroke-width="0.9"/><ellipse cx="649.8" cy="541.8" rx="3.6" ry="4" fill="#8a8a8a" stroke="#666" stroke-width="0.6"/>
<polygon points="704.0,520.0 721.8,512.0 721.8,536.0 715.9,539.5 704.0,545.0 698.0,541.0" fill="#5a5a5a" />
<polygon points="700.0,498.0 721.8,500.0 721.8,512.0 704.0,520.0" fill="#8e8e8e" />
<polygon points="661.0,550.0 686.0,548.0 693.8,549.0 686.0,555.0 678.5,559.5 661.4,560.0" fill="#6c6c6c" />
<polygon points="665.0,551.5 684.0,550.0 684.0,553.0 666.0,555.0" fill="#a6a6a6" />
</g></g>
<line x1="619" y1="506.5" x2="641" y2="495" stroke="#f2f2f2" stroke-width="2"/><line x1="619" y1="506.5" x2="641" y2="495" stroke="#666" stroke-width="0.5"/>
<line x1="690.6" y1="411" x2="686" y2="431" stroke="#222" stroke-width="1.1"/><line x1="690.6" y1="411" x2="686" y2="431" stroke="#fff" stroke-width="1.1" stroke-dasharray="1.5 1.5"/>
<line x1="696.6" y1="411" x2="687" y2="430" stroke="#222" stroke-width="1.1"/><line x1="696.6" y1="411" x2="687" y2="430" stroke="#fff" stroke-width="1.1" stroke-dasharray="1.5 1.5"/>
<rect x="97" y="144" width="45.8" height="42.9" fill="#fff" stroke="#3a3a3a" stroke-width="1.35"/>
<g fill="#1c1c1c" stroke="none"><circle cx="106" cy="170.8" r="5.3" fill="none" stroke="#1c1c1c" stroke-width="1.5"/><circle cx="106" cy="170.8" r="1.1"/><circle cx="133.2" cy="170.6" r="4.9" fill="none" stroke="#1c1c1c" stroke-width="2.2"/><circle cx="133.2" cy="170.6" r="1.4"/><path d="M112.3,157.4 L114.8,154.3 L116.7,154.5 L119.3,158.1 C121,159.2 122.5,159.3 123.7,159 C125.5,158.4 127,157.8 128.1,157.7 C131,157.3 134.5,157.4 137.6,157.9 C135.5,158.8 133.5,159 131.9,159.4 C132.6,160.6 132.3,161.8 131.3,162.5 L128.1,163.7 L125.6,168.2 L123.7,170.1 L115.5,170.1 L114.8,166.3 L112.3,161.8 Z"/><path d="M101.6,162.4 C103.5,160.4 106.5,159.4 110.6,159.5 L110.6,160.5 C107,160.5 104,161.2 102.2,162.9 Z"/><path d="M112.2,157.8 L113.9,158.6 L107,171.2 L105.3,170.4 Z"/><path d="M124,167.6 L133.3,169.9 L133,171.4 L123.6,169.2 Z"/></g>
<rect x="111.6" y="193.3" width="184.1" height="16.799999999999983" fill="#fff063" stroke="#2a2a2a" stroke-width="1.3"/>
<line x1="128.5" y1="192.8" x2="128.5" y2="210.6" stroke="#2a2a2a" stroke-width="1"/>
<g stroke="#9a8f3a" fill="none"><line x1="113.3" y1="194.7" x2="126.3" y2="208.7" stroke-width="0.7"/><line x1="118.3" y1="200.1" x2="123.6" y2="205.79999999999998" stroke-width="2.6" stroke="#b5aa4c"/><line x1="116.2" y1="203.5" x2="121.0" y2="198.29999999999998" stroke-width="1.2"/><line x1="117.3" y1="207.2" x2="120.3" y2="204.2" stroke-width="0.7"/></g>
<text x="134.8" y="206.0" font-size="11.8" font-weight="bold" fill="#111" textLength="157.5" lengthAdjust="spacingAndGlyphs">10 N<tspan font-size="7.6" dy="-1.1" dx="1.1">•</tspan><tspan dy="1.1" dx="1.1" font-size="0.1"> </tspan>m (1.0 kgf<tspan font-size="7.6" dy="-1.1" dx="1.1">•</tspan><tspan dy="1.1" dx="1.1" font-size="0.1"> </tspan>m, 7.4 lb<tspan font-size="7.6" dy="-1.1" dx="1.1">•</tspan><tspan dy="1.1" dx="1.1" font-size="0.1"> </tspan>ft)</text>
<rect x="102.8" y="216.7" width="184.7" height="16.600000000000023" fill="#fff063" stroke="#2a2a2a" stroke-width="1.3"/>
<line x1="120.5" y1="216.2" x2="120.5" y2="233.8" stroke="#2a2a2a" stroke-width="1"/>
<g stroke="#9a8f3a" fill="none"><line x1="104.9" y1="218.0" x2="117.9" y2="232.0" stroke-width="0.7"/><line x1="109.9" y1="223.4" x2="115.2" y2="229.1" stroke-width="2.6" stroke="#b5aa4c"/><line x1="107.80000000000001" y1="226.8" x2="112.60000000000001" y2="221.6" stroke-width="1.2"/><line x1="108.9" y1="230.5" x2="111.9" y2="227.5" stroke-width="0.7"/></g>
<text x="126.4" y="229.3" font-size="11.8" font-weight="bold" fill="#111" textLength="157.5" lengthAdjust="spacingAndGlyphs">10 N<tspan font-size="7.6" dy="-1.1" dx="1.1">•</tspan><tspan dy="1.1" dx="1.1" font-size="0.1"> </tspan>m (1.0 kgf<tspan font-size="7.6" dy="-1.1" dx="1.1">•</tspan><tspan dy="1.1" dx="1.1" font-size="0.1"> </tspan>m, 7.4 lb<tspan font-size="7.6" dy="-1.1" dx="1.1">•</tspan><tspan dy="1.1" dx="1.1" font-size="0.1"> </tspan>ft)</text>
<rect x="536.5" y="142.5" width="183.5" height="16" fill="#fff063" stroke="#2a2a2a" stroke-width="1.3"/>
<line x1="553.4" y1="142" x2="553.4" y2="159" stroke="#2a2a2a" stroke-width="1"/>
<g stroke="#9a8f3a" fill="none"><line x1="538.2" y1="143.5" x2="551.2" y2="157.5" stroke-width="0.7"/><line x1="543.2" y1="148.9" x2="548.5" y2="154.6" stroke-width="2.6" stroke="#b5aa4c"/><line x1="541.1" y1="152.3" x2="545.9000000000001" y2="147.1" stroke-width="1.2"/><line x1="542.2" y1="156.0" x2="545.2" y2="153.0" stroke-width="0.7"/></g>
<text x="560.1" y="154.8" font-size="11.8" font-weight="bold" fill="#111" textLength="157.2" lengthAdjust="spacingAndGlyphs">10 N<tspan font-size="7.6" dy="-1.1" dx="1.1">•</tspan><tspan dy="1.1" dx="1.1" font-size="0.1"> </tspan>m (1.0 kgf<tspan font-size="7.6" dy="-1.1" dx="1.1">•</tspan><tspan dy="1.1" dx="1.1" font-size="0.1"> </tspan>m, 7.4 lb<tspan font-size="7.6" dy="-1.1" dx="1.1">•</tspan><tspan dy="1.1" dx="1.1" font-size="0.1"> </tspan>ft)</text>
<rect x="438.7" y="627.6" width="180.2" height="16.199999999999932" fill="#fff063" stroke="#2a2a2a" stroke-width="1.3"/>
<line x1="455.1" y1="627.1" x2="455.1" y2="644.3" stroke="#2a2a2a" stroke-width="1"/>
<g stroke="#9a8f3a" fill="none"><line x1="440.15" y1="628.7" x2="453.15" y2="642.7" stroke-width="0.7"/><line x1="445.15" y1="634.1" x2="450.45" y2="639.8000000000001" stroke-width="2.6" stroke="#b5aa4c"/><line x1="443.04999999999995" y1="637.5" x2="447.84999999999997" y2="632.3000000000001" stroke-width="1.2"/><line x1="444.15" y1="641.2" x2="447.15" y2="638.2" stroke-width="0.7"/></g>
<text x="460.9" y="640.0" font-size="11.8" font-weight="bold" fill="#111" textLength="154.6" lengthAdjust="spacingAndGlyphs">95 N<tspan font-size="7.6" dy="-1.1" dx="1.1">•</tspan><tspan dy="1.1" dx="1.1" font-size="0.1"> </tspan>m (9.5 kgf<tspan font-size="7.6" dy="-1.1" dx="1.1">•</tspan><tspan dy="1.1" dx="1.1" font-size="0.1"> </tspan>m, 70 lb<tspan font-size="7.6" dy="-1.1" dx="1.1">•</tspan><tspan dy="1.1" dx="1.1" font-size="0.1"> </tspan>ft)</text>
<path d="M294.8,210.6 L290,263" fill="none" stroke="#3a3a3a" stroke-width="0.7" />
<path d="M103.5,233.8 L138.5,328" fill="none" stroke="#3a3a3a" stroke-width="0.7" />
<path d="M720.3,159 L695,344" fill="none" stroke="#3a3a3a" stroke-width="0.7" />
<path d="M416.5,625.4 L438.2,643.5" fill="none" stroke="#3a3a3a" stroke-width="0.7" />
<use href="#can" x="331.9" y="203.2" fill="#ed1c24"/>
<circle cx="331.9" cy="203.2" r="6.9" fill="#fff"/>
<text x="331.9" y="207.0" font-size="10.6" font-weight="bold" fill="#ed1c24" text-anchor="middle">E</text>
<line x1="331.6" y1="163" x2="423.3" y2="208.0" stroke="#ed1c24" stroke-width="0.8" marker-end="url(#ar)"/>
<line x1="331.6" y1="163" x2="411" y2="214.2" stroke="#ed1c24" stroke-width="0.8" marker-end="url(#ar)"/>
<line x1="331.6" y1="163" x2="400.5" y2="219.2" stroke="#ed1c24" stroke-width="0.8" marker-end="url(#ar)"/>
<line x1="331.6" y1="163" x2="428.5" y2="206.3" stroke="#ed1c24" stroke-width="0.8" marker-end="url(#ar)"/>
<use href="#can" x="415.1" y="182.5" fill="#ed1c24"/>
<circle cx="415.1" cy="182.5" r="6.9" fill="#fff"/>
<text x="415.1" y="186.3" font-size="10.6" font-weight="bold" fill="#ed1c24" text-anchor="middle">E</text>
<line x1="416.1" y1="142.6" x2="508.3" y2="165.1" stroke="#ed1c24" stroke-width="0.8" marker-end="url(#ar)"/>
<line x1="416.1" y1="142.6" x2="449.2" y2="195.1" stroke="#ed1c24" stroke-width="0.8" marker-end="url(#ar)"/>
<line x1="416.1" y1="142.6" x2="442.1" y2="201.2" stroke="#ed1c24" stroke-width="0.8" marker-end="url(#ar)"/>
<use href="#canh" x="522.3" y="301.2" fill="#ed1c24"/>
<circle cx="522.3" cy="301.2" r="6.9" fill="#fff"/>
<text x="522.3" y="305.0" font-size="10.6" font-weight="bold" fill="#ed1c24" text-anchor="middle">E</text>
<line x1="482" y1="300.9" x2="478.6" y2="331" stroke="#ed1c24" stroke-width="0.8" marker-end="url(#ar)"/>
<use href="#canh" x="400" y="333.8" fill="#ed1c24"/>
<circle cx="400" cy="333.8" r="6.9" fill="#fff"/>
<text x="400" y="337.6" font-size="10.6" font-weight="bold" fill="#ed1c24" text-anchor="middle">E</text>
<line x1="360" y1="333.6" x2="354" y2="381.5" stroke="#ed1c24" stroke-width="0.8" marker-end="url(#ar)"/>
<g transform="translate(593.2,0) scale(-1,1)">
<use href="#canh" x="296.6" y="554.1" fill="#ed1c24"/>
</g>
<circle cx="296.6" cy="554.1" r="6.9" fill="#fff"/><text x="296.6" y="557.9" font-size="10.6" font-weight="bold" fill="#ed1c24" text-anchor="middle">E</text>
<line x1="336.8" y1="554.1" x2="347.5" y2="499.8" stroke="#ed1c24" stroke-width="0.8" marker-end="url(#ar)"/>
<g transform="translate(281.2,0) scale(-1,1)">
<use href="#canh" x="140.6" y="592.2" fill="#ed1c24"/>
</g>
<circle cx="140.6" cy="592.2" r="6.9" fill="#fff"/><text x="140.6" y="596" font-size="10.6" font-weight="bold" fill="#ed1c24" text-anchor="middle">E</text>
<line x1="180.8" y1="592.2" x2="193.3" y2="561.5" stroke="#ed1c24" stroke-width="0.8" marker-end="url(#ar)"/>
<use href="#can" x="476.8" y="537.6" fill="#ed1c24"/>
<circle cx="476.8" cy="537.6" r="6.9" fill="#fff"/>
<text x="476.8" y="541.4" font-size="10.6" font-weight="bold" fill="#ed1c24" text-anchor="middle">E</text>
<line x1="477" y1="497.6" x2="557.5" y2="526.5" stroke="#ed1c24" stroke-width="0.8" marker-end="url(#ar)"/>
<use href="#can" x="386.1" y="604.2" fill="#ed1c24"/>
<circle cx="386.1" cy="604.2" r="6.9" fill="#fff"/>
<text x="386.1" y="608.0" font-size="10.6" font-weight="bold" fill="#ed1c24" text-anchor="middle">E</text>
<line x1="386.5" y1="564.2" x2="407.5" y2="610" stroke="#ed1c24" stroke-width="0.8" marker-end="url(#ar)"/>
<g fill="#2e3192"><path d="M650.7,341.3 L653,352 L648.8,352 Z"/><path d="M646.2,355 C646.4,352.4 648,351.4 651.2,351.4 C654.4,351.4 656,352.4 656.2,355 Z"/><path d="M644.6,355.3 L658,355.3 L666.2,378.4 L666.2,380 L637.8,380 L637.8,378.4 Z"/></g>
<circle cx="651.3" cy="368.7" r="7" fill="#fff"/><text x="651.4" y="372.3" font-size="9.6" font-weight="bold" fill="#111" text-anchor="middle" textLength="11.2" lengthAdjust="spacingAndGlyphs">LT</text>
<line x1="651" y1="341.8" x2="683" y2="345.7" stroke="#2e3192" stroke-width="0.8" marker-end="url(#ab)"/>
<text x="355.9" y="204.2" font-size="13.6" font-weight="bold" fill="#c4161c" text-anchor="middle">5</text>
<line x1="355.6" y1="206" x2="355.3" y2="213.5" stroke="#c4161c" stroke-width="0.8"/>
<text x="309.3" y="236" font-size="13.6" font-weight="bold" fill="#c4161c" text-anchor="middle">4</text>
<line x1="309" y1="238.5" x2="307.5" y2="254" stroke="#c4161c" stroke-width="0.8"/>
<text x="185.2" y="278" font-size="13.6" font-weight="bold" fill="#c4161c" text-anchor="middle">2</text>
<line x1="190" y1="277" x2="205" y2="284.5" stroke="#c4161c" stroke-width="0.8"/>
<text x="314" y="318.2" font-size="13.6" font-weight="bold" fill="#c4161c" text-anchor="middle">3</text>
<line x1="292.5" y1="311.5" x2="307.5" y2="313.5" stroke="#c4161c" stroke-width="0.8"/>
<text x="511.7" y="206.2" font-size="13.6" font-weight="bold" fill="#c4161c" text-anchor="middle">11</text>
<line x1="491.3" y1="181.5" x2="505.3" y2="194.7" stroke="#c4161c" stroke-width="0.8"/>
<text x="471.2" y="228.2" font-size="13.6" font-weight="bold" fill="#c4161c" text-anchor="middle">10</text>
<line x1="445.2" y1="205.6" x2="464.2" y2="219.2" stroke="#c4161c" stroke-width="0.8"/>
<text x="456.8" y="235.2" font-size="13.6" font-weight="bold" fill="#c4161c" text-anchor="middle">6</text>
<line x1="435.7" y1="212.2" x2="452.2" y2="226.2" stroke="#c4161c" stroke-width="0.8"/>
<text x="442.6" y="243.3" font-size="13.6" font-weight="bold" fill="#c4161c" text-anchor="middle">9</text>
<line x1="419.1" y1="222.2" x2="438.1" y2="235.2" stroke="#c4161c" stroke-width="0.8"/>
<text x="428.1" y="251.3" font-size="13.6" font-weight="bold" fill="#c4161c" text-anchor="middle">8</text>
<line x1="410.1" y1="228.2" x2="424.1" y2="242.3" stroke="#c4161c" stroke-width="0.8"/>
<text x="413.5" y="257.7" font-size="13.6" font-weight="bold" fill="#c4161c" text-anchor="middle">7</text>
<line x1="399" y1="232.2" x2="411.1" y2="247.3" stroke="#c4161c" stroke-width="0.8"/>
<text x="452.6" y="307.5" font-size="13.6" font-weight="bold" fill="#c4161c" text-anchor="middle">12</text>
<line x1="456.3" y1="311.2" x2="471" y2="334.1" stroke="#c4161c" stroke-width="0.8"/>
<text x="150.7" y="470.8" font-size="13.6" font-weight="bold" fill="#c4161c" text-anchor="middle">12</text>
<line x1="155.6" y1="473.9" x2="168.7" y2="498.5" stroke="#c4161c" stroke-width="0.8"/>
<text x="324" y="377.5" font-size="13.6" font-weight="bold" fill="#c4161c" text-anchor="middle">14</text>
<line x1="329.5" y1="378.7" x2="342.6" y2="403.3" stroke="#c4161c" stroke-width="0.8"/>
<text x="413.7" y="492.6" font-size="13.6" font-weight="bold" fill="#c4161c" text-anchor="middle">13</text>
<line x1="397.3" y1="453.9" x2="410.4" y2="476.9" stroke="#c4161c" stroke-width="0.8"/>
<text x="531.5" y="610.8" font-size="13.6" font-weight="bold" fill="#c4161c" text-anchor="middle">15</text>
<line x1="502" y1="596" x2="519" y2="605.5" stroke="#c4161c" stroke-width="0.8"/>
<text x="686.5" y="292.5" font-size="13.6" font-weight="bold" fill="#c4161c" text-anchor="middle">1</text>
<line x1="668.5" y1="269.5" x2="682" y2="281" stroke="#c4161c" stroke-width="0.8"/>
<rect x="396" y="262.2" width="36.8" height="18" fill="#111"/>
<text x="414.4" y="275.8" font-size="13.2" font-weight="bold" fill="#fff" text-anchor="middle">New</text>
<rect x="320" y="303.4" width="36.8" height="18.3" fill="#111"/>
<text x="338.4" y="317.1" font-size="13.2" font-weight="bold" fill="#fff" text-anchor="middle">New</text>
<rect x="409.2" y="539.3" width="36.8" height="18" fill="#111"/>
<text x="427.6" y="552.9" font-size="13.2" font-weight="bold" fill="#fff" text-anchor="middle">New</text>
<path d="M410.2,557.3 L410,611" fill="none" stroke="#3a3a3a" stroke-width="0.7" />
<path d="M410.6,557.3 L419.7,604.9" fill="none" stroke="#3a3a3a" stroke-width="0.7" />
</svg>
<div class="hl" style="top:654px"></div>
<div class="hl" style="top:676px"></div>
<div class="hl" style="top:718px"></div>
<div class="hl" style="top:735px"></div>
<div class="hl" style="top:752px"></div>
<div class="hl" style="top:770px"></div>
<div class="hl" style="top:787px"></div>
<div class="hl" style="top:804px"></div>
<div class="hl" style="top:822px"></div>
<div class="hl" style="top:839px"></div>
<div class="hl" style="top:856px"></div>
<div class="hl" style="top:874px"></div>
<div class="hl" style="top:891px"></div>
<div class="hl" style="top:908px"></div>
<div class="hl" style="top:926px"></div>
<div class="hl" style="top:943px"></div>
<div class="hl" style="top:960px"></div>
<div class="hl" style="top:978px"></div>
<div class="vl" style="left:164px"></div>
<div class="vl" style="left:428px"></div>
<div class="vl" style="left:485px"></div>
<div class="t b c" style="left:90px;width:74px;top:657px">Order</div>
<div class="t b c" style="left:165px;width:263px;top:657px">Job/Parts to remove</div>
<div class="t b c" style="left:429px;width:56px;top:657px">Q’ty</div>
<div class="t b c" style="left:486px;width:244px;top:657px">Remarks</div>
<div class="t " style="left:169.5px;width:250px;top:689.5px">Engine oil</div>
<div class="t" style="left:491.2px;top:678.1px;line-height:11.85px;white-space:normal;width:240px">Drain.<br><span style="letter-spacing:-0.035px">Refer to “CHANGING THE ENGINE OIL” on</span><br>page 3-14.</div>
<div class="t " style="left:169.5px;width:250px;top:719px">Brake pedal</div>
<div class="t " style="left:491.2px;width:240px;top:719px">Refer to “ENGINE REMOVAL” on page 5-6.</div>
<div class="t c" style="left:89.1px;width:74px;top:736px">1</div>
<div class="t " style="left:169.5px;width:250px;top:736px">Clutch cable</div>
<div class="t c" style="left:429px;width:56px;top:736px">1</div>
<div class="t " style="left:491.2px;width:240px;top:736px">Disconnect.</div>
<div class="t c" style="left:89.1px;width:74px;top:753px">2</div>
<div class="t " style="left:169.5px;width:250px;top:753px">Clutch cover</div>
<div class="t c" style="left:429px;width:56px;top:753px">1</div>
<div class="t c" style="left:89.1px;width:74px;top:771px">3</div>
<div class="t " style="left:169.5px;width:250px;top:771px">Gasket</div>
<div class="t c" style="left:429px;width:56px;top:771px">1</div>
<div class="t c" style="left:89.1px;width:74px;top:788px">4</div>
<div class="t " style="left:169.5px;width:250px;top:788px">Clutch spring</div>
<div class="t c" style="left:429px;width:56px;top:788px">6</div>
<div class="t c" style="left:89.1px;width:74px;top:805px">5</div>
<div class="t " style="left:169.5px;width:250px;top:805px">Pressure plate</div>
<div class="t c" style="left:429px;width:56px;top:805px">1</div>
<div class="t c" style="left:89.1px;width:74px;top:823px">6</div>
<div class="t " style="left:169.5px;width:250px;top:823px">Push rod 1</div>
<div class="t c" style="left:429px;width:56px;top:823px">1</div>
<div class="t c" style="left:89.1px;width:74px;top:840px">7</div>
<div class="t " style="left:169.5px;width:250px;top:840px">Circlip</div>
<div class="t c" style="left:429px;width:56px;top:840px">1</div>
<div class="t c" style="left:89.1px;width:74px;top:857px">8</div>
<div class="t " style="left:169.5px;width:250px;top:857px">Washer</div>
<div class="t c" style="left:429px;width:56px;top:857px">1</div>
<div class="t c" style="left:89.1px;width:74px;top:875px">9</div>
<div class="t " style="left:169.5px;width:250px;top:875px">Bearing</div>
<div class="t c" style="left:429px;width:56px;top:875px">1</div>
<div class="t c" style="left:89.1px;width:74px;top:892px">10</div>
<div class="t " style="left:169.5px;width:250px;top:892px">Ball</div>
<div class="t c" style="left:429px;width:56px;top:892px">1</div>
<div class="t c" style="left:89.1px;width:74px;top:909px">11</div>
<div class="t " style="left:169.5px;width:250px;top:909px">Push rod 2</div>
<div class="t c" style="left:429px;width:56px;top:909px">1</div>
<div class="t c" style="left:89.1px;width:74px;top:927px">12</div>
<div class="t " style="left:169.5px;width:250px;top:927px">Friction plate 1</div>
<div class="t c" style="left:429px;width:56px;top:927px">2</div>
<div class="t " style="left:491.2px;width:240px;top:927px">Identification color (black)</div>
<div class="t c" style="left:89.1px;width:74px;top:944px">13</div>
<div class="t " style="left:169.5px;width:250px;top:944px">Clutch plate</div>
<div class="t c" style="left:429px;width:56px;top:944px">7</div>
<div class="t c" style="left:89.1px;width:74px;top:961px">14</div>
<div class="t " style="left:169.5px;width:250px;top:961px">Friction plate 2</div>
<div class="t c" style="left:429px;width:56px;top:961px">6</div>
<div class="t " style="left:491.2px;width:240px;top:961px">Identification color (orange)</div>
<div class="t c" style="left:89.1px;width:74px;top:979px">15</div>
<div class="t " style="left:169.5px;width:250px;top:979px">Clutch boss</div>
<div class="t c" style="left:429px;width:56px;top:979px">1</div>
</body></html>
